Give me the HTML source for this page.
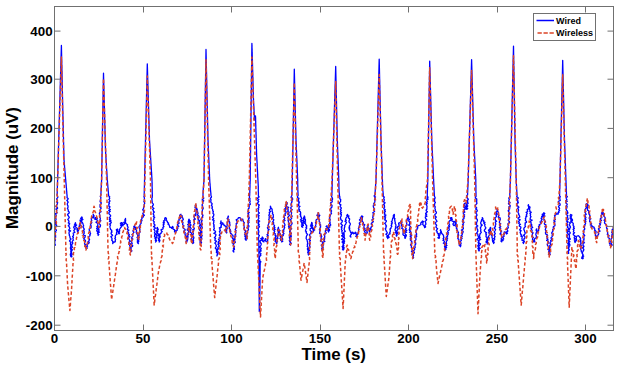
<!DOCTYPE html>
<html><head><meta charset="utf-8"><style>
html,body{margin:0;padding:0;background:#fff;}
body{width:620px;height:370px;position:relative;overflow:hidden;font-family:"Liberation Sans",sans-serif;font-weight:bold;color:#000;}
svg{position:absolute;left:0;top:0;}
.yl{position:absolute;right:567.4px;font-size:13.4px;line-height:15px;height:15px;text-align:right;white-space:nowrap;}
.xl{position:absolute;top:331.0px;width:40px;font-size:13.4px;line-height:15px;text-align:center;}
.xlab{position:absolute;left:301.5px;top:345.3px;font-size:16.9px;line-height:19px;white-space:nowrap;}
.ylab{position:absolute;left:3.2px;top:228.6px;font-size:16.9px;line-height:19px;white-space:nowrap;transform-origin:0 0;transform:rotate(-90deg);}
.lg{position:absolute;font-size:9px;line-height:11px;white-space:nowrap;}
</style></head><body>
<svg width="620" height="370" viewBox="0 0 620 370">
<defs><clipPath id="ax"><rect x="54.5" y="6.5" width="559.0" height="324.0"/></clipPath></defs>
<g fill="none" stroke-linejoin="round" stroke-linecap="round" clip-path="url(#ax)">
<polyline points="54.5,247.0 53.8,246.0 55.3,245.2 55.2,244.3 54.2,243.3 54.8,242.5 54.7,241.5 55.2,240.7 55.5,239.8 54.2,238.8 54.1,237.9 55.8,237.0 55.0,236.1 55.7,235.2 54.3,234.2 55.2,233.4 55.8,232.5 54.9,231.5 56.4,230.7 56.3,229.8 54.7,228.8 54.7,227.9 55.7,227.0 55.8,226.1 56.7,225.3 55.6,224.3 55.3,223.4 55.8,222.5 55.0,221.6 55.5,220.7 55.9,219.9 56.1,219.0 55.6,218.1 55.7,217.2 55.7,216.3 56.2,215.4 55.9,214.5 55.4,213.6 57.1,212.8 56.6,211.9 56.5,211.0 56.8,210.1 55.9,209.1 57.6,208.3 57.4,207.4 55.9,206.4 56.4,205.5 57.2,204.6 57.2,203.7 57.7,202.8 56.7,201.9 57.5,201.0 57.3,200.1 56.6,199.1 57.2,198.2 57.8,197.3 57.7,196.4 57.1,195.5 57.1,194.6 57.2,193.7 57.2,192.7 57.2,191.8 57.3,190.9 57.3,190.0 61.4,45.4 62.8,110.0 62.8,110.9 62.8,111.8 62.9,112.7 62.9,113.6 62.9,114.5 62.9,115.4 62.9,116.2 63.0,117.1 63.0,118.0 63.0,118.9 63.0,119.8 63.1,120.7 63.1,121.6 63.1,122.5 63.1,123.4 63.1,124.3 63.2,125.2 63.2,126.1 63.2,127.0 63.2,127.9 63.2,128.8 63.3,129.6 63.3,130.5 63.3,131.4 63.3,132.3 63.4,133.2 63.4,134.1 63.4,135.0 63.4,135.9 63.4,136.8 63.5,137.7 63.5,138.6 63.5,139.5 63.5,140.4 63.5,141.2 63.6,142.1 63.6,143.0 63.6,143.9 63.6,144.8 63.7,145.7 63.7,146.6 63.7,147.5 63.7,148.4 63.7,149.3 63.8,150.2 63.8,151.1 63.8,152.0 63.8,152.9 63.9,153.8 63.9,154.6 63.9,155.5 63.9,156.4 63.9,157.3 64.0,158.2 64.0,159.1 64.0,160.0 64.1,160.9 64.2,161.8 64.2,162.7 64.3,163.6 64.4,164.5 64.5,165.4 64.5,166.3 64.6,167.2 64.7,168.1 64.8,169.0 64.8,169.9 64.9,170.8 65.0,171.7 65.1,172.6 65.2,173.5 65.2,174.4 65.3,175.3 65.4,176.2 65.5,177.1 65.5,177.9 65.6,178.8 65.7,179.7 65.8,180.6 65.8,181.5 65.9,182.4 66.0,183.3 66.1,184.2 66.2,185.1 66.2,186.0 66.3,186.9 66.4,187.8 66.5,188.7 66.5,189.6 66.6,190.5 66.7,191.4 66.8,192.3 66.8,193.2 66.9,194.1 67.0,195.0 67.1,195.9 67.1,196.8 67.0,197.7 68.2,198.5 67.8,199.5 66.8,200.4 67.6,201.3 68.2,202.2 67.5,203.1 67.3,204.0 67.4,204.9 68.0,205.8 68.0,206.7 67.9,207.6 67.4,208.5 68.0,209.4 68.3,210.3 68.2,211.2 69.2,212.0 69.2,212.9 68.0,213.9 67.5,214.9 68.3,215.7 68.8,216.6 69.3,217.5 68.7,218.4 67.8,219.4 68.3,220.2 68.9,221.1 69.0,222.0 68.3,222.9 69.7,223.8 69.2,224.7 68.3,225.7 69.1,226.5 69.4,227.4 69.9,228.3 69.4,229.2 68.6,230.2 70.6,230.9 69.1,231.9 69.1,232.8 69.0,233.8 69.4,234.6 69.3,235.5 69.9,236.4 69.9,237.3 70.2,238.2 71.0,239.0 70.2,240.0 69.5,240.9 70.2,241.8 71.0,242.6 70.4,243.6 70.5,244.5 70.8,245.4 70.9,246.2 70.5,247.2 70.4,248.1 70.5,249.0 70.9,249.8 71.8,250.7 71.4,251.6 71.6,252.5 70.8,253.4 70.3,254.4 70.5,255.2 70.6,256.1 71.2,257.0 71.9,256.2 70.9,255.2 72.2,254.4 71.9,253.5 70.8,252.4 70.8,251.5 70.9,250.6 72.5,249.9 71.5,248.9 71.4,248.0 72.5,247.2 72.0,246.2 71.6,245.3 71.8,244.4 72.7,243.6 72.7,242.7 72.2,241.7 72.5,240.9 73.5,240.1 73.1,239.2 72.9,238.3 73.4,237.4 72.6,236.5 73.4,235.7 73.6,234.8 73.3,233.9 73.2,233.0 74.9,232.3 74.2,231.3 73.8,230.4 74.7,229.6 75.2,228.8 73.7,227.7 73.9,226.8 74.2,226.0 75.5,225.3 74.5,224.3 75.7,223.5 75.4,222.6 75.3,223.6 75.7,224.4 76.6,225.1 75.3,226.4 75.9,227.2 76.7,227.9 77.5,228.6 76.9,229.7 77.6,230.5 77.4,231.5 77.8,232.3 77.7,231.4 78.5,230.7 77.6,229.5 78.3,228.8 79.8,228.3 79.9,227.4 79.0,226.2 80.3,225.6 79.5,224.5 80.9,224.0 80.8,223.0 80.4,222.0 80.3,221.1 80.0,220.1 81.9,219.7 80.6,218.4 82.3,217.9 81.9,216.9 81.1,217.9 82.0,218.7 82.9,219.5 81.6,220.6 81.5,221.5 82.2,222.4 82.7,223.2 83.1,224.1 83.3,225.0 83.7,225.9 82.8,226.9 83.4,227.7 84.0,228.6 84.3,229.4 83.3,230.5 84.2,231.3 83.9,232.2 84.4,233.1 83.4,234.1 83.5,235.1 85.3,235.7 85.1,236.7 84.9,237.6 83.7,238.7 84.3,239.5 85.3,240.3 85.6,241.2 84.8,242.2 84.6,243.2 84.6,244.1 85.8,244.8 84.9,245.9 85.4,246.7 85.9,247.6 86.0,248.5 87.3,248.1 86.3,246.6 87.6,246.2 86.9,244.9 87.4,244.1 88.4,243.6 89.3,242.8 88.0,241.8 89.2,241.0 89.0,240.1 89.6,239.3 88.8,238.3 88.8,237.4 88.9,236.5 90.1,235.8 89.7,234.8 90.5,234.0 90.5,233.1 89.1,232.0 90.0,231.3 89.3,230.3 89.2,229.4 89.4,228.5 91.1,227.8 91.0,226.9 91.2,226.0 90.4,225.0 90.8,224.2 91.2,223.4 91.8,222.6 91.2,221.5 91.8,220.7 91.4,219.6 91.3,218.7 91.9,217.9 93.3,217.3 92.9,216.2 93.8,215.5 93.2,214.4 93.5,215.2 94.2,215.9 93.5,217.0 93.6,217.9 95.5,218.2 94.8,219.3 95.6,219.0 95.4,217.6 96.5,217.7 97.3,218.5 95.9,219.5 97.7,220.3 97.3,221.2 95.9,222.2 97.1,223.0 97.8,223.9 97.8,224.8 97.7,225.7 96.8,226.6 98.2,227.4 96.6,228.5 97.8,229.2 96.7,230.2 96.9,231.1 98.2,231.9 98.4,232.8 98.0,233.7 98.8,234.5 98.1,235.5 98.5,234.7 97.4,233.6 97.5,232.8 99.5,232.2 98.3,231.1 99.0,230.3 98.9,229.4 98.7,228.5 98.3,227.6 100.1,226.9 100.4,226.1 100.5,225.2 99.7,224.2 99.0,223.3 99.2,222.4 100.0,221.5 100.8,220.7 100.0,219.7 100.3,218.8 100.3,217.9 99.5,217.0 100.1,216.1 99.6,215.2 99.6,214.3 99.3,213.4 99.7,212.5 101.1,211.7 100.1,210.8 100.5,209.9 100.6,209.0 101.2,208.1 100.1,207.2 100.0,206.3 100.1,205.4 100.1,204.5 101.2,203.6 101.3,202.7 100.1,201.8 100.2,200.9 100.6,200.0 100.7,199.1 100.8,198.2 100.9,197.3 100.3,196.3 100.8,195.5 100.9,194.5 100.9,193.6 101.0,192.7 101.0,191.8 101.1,190.9 101.1,190.0 101.1,189.1 101.2,188.2 101.2,187.3 101.3,186.4 101.3,185.5 101.4,184.5 101.4,183.6 101.5,182.7 101.5,181.8 101.6,180.9 101.6,180.0 103.5,73.2 105.5,150.0 105.6,150.9 105.6,151.8 105.7,152.7 105.7,153.6 105.8,154.5 105.8,155.5 105.9,156.4 105.9,157.3 106.0,158.2 106.0,159.1 106.1,160.0 106.2,160.9 106.2,161.8 106.3,162.7 106.3,163.6 106.4,164.5 106.4,165.5 106.5,166.4 106.5,167.3 106.6,168.2 106.6,169.1 106.7,170.0 106.8,170.9 106.8,171.8 106.9,172.7 106.9,173.6 107.0,174.5 107.0,175.5 107.1,176.4 107.1,177.3 107.2,178.2 107.2,179.1 107.3,180.0 107.4,180.9 107.5,181.8 107.5,182.6 107.6,183.5 107.7,184.4 107.8,185.3 107.8,186.2 107.9,187.1 108.0,187.9 108.1,188.8 108.1,189.7 108.2,190.6 108.3,191.5 108.4,192.4 108.4,193.2 108.5,194.1 108.6,195.0 108.7,195.9 109.7,196.8 109.3,197.7 109.7,198.6 108.8,199.6 109.8,200.4 109.9,201.3 108.8,202.3 109.5,203.2 108.6,204.1 109.2,205.0 108.6,206.0 110.0,206.8 109.4,207.7 108.9,208.7 110.4,209.5 108.7,210.5 110.3,211.3 109.1,212.3 108.8,213.2 109.2,214.1 110.2,215.0 110.7,215.9 110.0,216.8 109.2,217.8 110.5,218.6 109.4,219.6 110.9,220.4 109.5,221.4 111.3,222.2 110.8,223.2 109.6,224.1 110.5,225.0 110.0,226.0 109.9,226.9 110.1,227.7 110.4,228.6 110.6,229.5 111.8,230.2 111.4,231.2 112.0,232.0 111.0,233.0 111.2,233.9 112.1,234.7 112.6,235.5 110.9,236.6 111.4,237.5 112.0,238.3 112.1,239.2 111.6,240.1 112.5,240.9 112.7,241.8 112.9,242.7 112.7,243.6 113.2,242.7 113.7,241.8 115.0,242.0 115.4,241.2 115.2,240.2 115.6,239.4 114.8,238.4 115.5,237.6 115.2,236.7 115.4,235.8 115.8,235.0 117.1,234.3 116.4,233.3 116.6,232.4 117.1,231.6 116.6,230.6 116.3,229.7 117.4,229.0 117.6,229.8 117.9,230.6 117.9,231.5 118.6,232.2 118.4,233.2 119.0,233.9 119.6,233.1 118.9,232.0 119.6,231.3 119.7,230.4 119.4,229.4 120.0,228.6 120.5,227.8 121.3,227.1 121.5,226.3 120.5,225.1 121.4,224.4 120.4,223.3 121.5,222.6 122.7,223.0 122.3,224.2 122.0,225.3 123.1,225.8 122.7,224.8 124.1,224.3 124.6,223.6 123.8,222.4 124.8,221.9 125.4,221.2 124.7,220.0 125.6,219.4 125.5,218.5 125.3,219.5 125.7,220.4 125.4,221.4 125.6,222.3 125.7,223.3 126.6,224.0 127.6,224.7 127.2,225.8 127.8,226.6 128.1,227.5 127.5,228.6 127.3,229.5 128.8,230.2 127.7,231.3 127.8,232.3 128.7,233.1 128.5,234.0 129.4,234.8 128.4,235.9 129.9,236.6 128.2,237.8 128.7,238.7 129.2,239.5 129.6,240.4 130.2,241.2 129.0,242.3 129.1,243.1 130.8,243.8 129.7,244.8 129.7,245.7 130.1,246.5 130.2,247.4 130.8,248.2 130.0,249.2 130.0,250.1 131.3,250.8 131.2,251.7 131.9,250.9 131.2,249.9 130.8,248.9 131.2,248.1 130.9,247.1 132.5,246.4 132.7,245.5 131.2,244.4 132.2,243.6 131.9,242.7 131.4,241.7 131.9,240.9 131.9,240.0 132.9,239.1 131.5,238.1 132.0,237.2 132.6,236.4 132.8,235.5 132.0,234.5 133.3,233.8 133.4,232.9 134.0,232.1 132.9,231.0 133.2,230.1 133.9,229.3 133.5,228.4 134.3,227.6 133.8,226.6 134.4,225.8 134.7,226.6 135.1,227.3 136.1,227.4 135.6,228.4 135.4,229.3 136.4,230.1 136.7,231.0 136.1,232.0 136.4,232.9 136.9,233.7 137.4,234.6 137.7,235.4 138.2,236.3 137.0,237.4 138.5,238.1 137.3,239.2 137.9,240.0 137.2,241.0 137.7,241.9 137.4,242.8 138.5,243.6 137.8,242.7 138.6,241.8 138.9,241.0 138.4,240.0 138.9,239.2 138.7,238.3 139.1,237.4 138.1,236.5 139.0,235.7 139.1,234.8 138.9,233.9 139.2,233.0 140.0,232.2 139.9,231.3 139.6,230.4 140.0,229.5 139.5,228.6 139.2,227.7 138.9,226.8 139.5,225.9 140.2,225.1 140.1,224.2 141.1,223.5 141.2,222.5 140.8,221.4 142.0,220.7 141.2,219.5 142.1,218.8 141.7,217.7 142.1,217.0 143.2,217.0 143.4,216.1 144.4,215.2 143.1,214.3 142.8,213.3 143.8,212.4 143.6,211.5 143.3,210.6 142.7,209.6 143.5,208.8 143.6,207.8 143.6,206.9 144.5,206.0 144.0,205.1 144.3,204.2 144.7,203.3 144.4,202.4 143.9,201.4 144.5,200.5 144.3,199.6 144.4,198.7 144.4,197.8 143.9,196.8 144.2,195.9 144.2,195.0 147.3,63.8 149.5,140.0 149.6,140.9 149.6,141.8 149.7,142.7 149.7,143.6 149.8,144.4 149.8,145.3 149.9,146.2 149.9,147.1 150.0,148.0 150.1,148.9 150.1,149.8 150.2,150.7 150.2,151.6 150.3,152.4 150.3,153.3 150.4,154.2 150.4,155.1 150.5,156.0 150.6,156.9 150.6,157.8 150.7,158.7 150.7,159.6 150.8,160.4 150.8,161.3 150.9,162.2 150.9,163.1 151.0,164.0 151.1,164.9 151.1,165.8 151.2,166.7 151.2,167.6 151.3,168.4 151.3,169.3 151.4,170.2 151.4,171.1 151.5,172.0 151.6,172.9 151.6,173.8 151.7,174.7 151.7,175.6 151.8,176.4 151.8,177.3 151.9,178.2 151.9,179.1 152.0,180.0 152.0,180.9 152.0,181.8 152.1,182.6 152.1,183.5 152.1,184.4 152.1,185.3 152.1,186.2 152.1,187.1 152.2,187.9 152.2,188.8 152.2,189.7 152.2,190.6 152.2,191.5 152.2,192.4 152.3,193.2 152.3,194.1 152.3,195.0 152.4,195.9 152.2,196.8 152.2,197.7 151.7,198.7 152.0,199.5 152.0,200.4 152.2,201.3 152.1,202.2 152.6,203.1 153.2,204.0 153.4,204.9 152.6,205.8 152.3,206.7 153.0,207.6 153.9,208.5 152.6,209.4 153.3,210.3 153.4,211.2 154.3,212.0 153.5,213.0 153.1,213.9 153.8,214.8 154.0,215.7 153.4,216.6 154.7,217.4 153.8,218.4 153.9,219.3 153.1,220.3 153.6,221.1 154.3,222.0 153.8,223.0 154.0,223.9 154.9,224.7 154.9,225.6 153.6,226.6 154.9,227.4 155.4,228.3 153.9,229.3 154.6,230.2 155.0,231.1 154.8,232.0 154.4,233.0 155.6,233.8 154.7,234.8 154.6,235.7 154.5,236.6 155.6,237.4 155.0,238.4 155.8,239.2 155.3,240.2 156.1,241.0 155.5,242.0 156.2,241.2 156.5,240.3 155.5,239.2 155.4,238.3 157.0,237.6 156.7,236.6 157.1,235.7 155.6,234.6 157.4,233.9 157.0,232.9 156.5,231.9 156.9,231.0 157.6,230.2 157.8,229.3 156.8,228.2 157.5,227.4 157.3,228.3 158.4,229.2 156.9,230.2 158.0,231.0 157.2,232.1 157.6,232.9 158.0,233.8 158.8,234.6 158.3,235.6 159.2,236.4 159.3,237.4 158.3,238.4 159.1,239.2 158.4,240.2 159.5,241.0 159.1,242.0 159.7,241.2 159.9,240.3 159.3,239.3 159.1,238.3 159.9,237.5 160.2,236.7 159.7,235.7 160.0,234.8 159.9,233.9 161.2,233.2 161.2,232.3 162.2,231.7 161.2,230.5 161.1,229.6 162.7,229.2 163.1,228.4 162.8,227.4 163.9,226.7 163.5,225.7 163.1,224.7 164.3,224.0 163.1,222.8 164.5,222.2 163.5,221.0 164.4,220.3 164.8,219.5 164.7,218.5 165.2,217.7 166.2,218.2 166.5,219.0 165.9,220.4 166.9,220.9 167.4,221.7 167.6,222.6 168.6,223.1 168.1,224.4 169.2,224.8 169.3,225.8 169.7,226.5 169.8,227.4 170.9,227.4 171.7,228.4 172.4,226.4 173.2,227.3 172.9,228.3 173.1,229.1 174.4,229.6 174.6,230.4 174.5,231.4 174.9,232.1 176.2,231.8 175.9,230.4 177.3,230.2 177.3,228.9 178.0,228.1 177.1,226.9 178.8,226.3 177.3,225.0 177.8,224.1 179.0,223.4 178.9,222.4 178.3,221.3 179.1,220.5 178.9,219.5 179.8,218.8 180.7,218.1 181.1,217.2 179.6,215.9 179.9,215.0 181.0,214.3 180.6,215.4 182.3,215.9 182.1,216.9 182.6,217.7 182.9,218.6 183.3,219.5 182.3,220.7 182.3,221.6 183.0,222.4 182.8,223.3 182.6,224.3 183.2,225.1 183.9,225.8 183.5,226.8 183.0,227.8 183.8,228.5 184.8,229.2 185.3,230.0 183.7,231.2 184.6,232.0 185.2,232.7 184.9,233.7 185.1,234.6 185.4,235.4 185.6,236.3 186.7,237.0 186.4,238.1 186.5,239.1 187.1,239.9 186.0,241.2 187.0,241.9 186.9,241.0 187.5,240.1 187.7,239.2 187.8,238.3 187.9,237.4 188.0,236.5 187.1,235.5 188.6,234.7 187.1,233.7 188.7,232.9 188.6,232.0 188.7,231.1 187.2,230.0 187.4,229.1 188.9,228.3 188.3,227.4 188.2,226.4 189.5,225.6 187.7,224.6 188.7,223.7 188.7,222.8 188.1,221.9 188.7,221.0 189.4,220.1 189.1,219.2 188.5,220.2 190.3,220.8 189.4,221.8 190.4,222.6 189.1,223.6 190.7,224.3 190.9,225.2 190.3,226.1 189.7,227.1 190.7,227.8 191.2,228.7 190.0,229.7 190.7,230.5 190.2,231.5 190.3,232.3 191.5,233.0 191.4,233.9 191.9,234.8 191.4,235.7 192.0,236.5 192.1,237.4 191.3,238.4 191.1,239.3 192.0,240.1 193.1,240.8 192.1,241.8 192.7,242.6 192.7,243.5 193.7,242.7 193.3,241.7 193.6,240.8 193.4,239.9 193.1,239.0 193.9,238.1 193.8,237.2 192.8,236.2 192.6,235.3 193.1,234.4 193.4,233.5 192.7,232.5 193.2,231.7 193.7,230.8 192.7,229.8 194.4,229.0 194.1,228.1 193.5,227.1 193.5,226.2 193.7,225.3 193.7,224.4 194.6,223.6 194.2,222.6 194.3,221.7 194.3,220.8 193.7,219.8 195.3,219.1 194.2,218.1 194.3,217.2 193.9,216.2 195.8,215.5 194.9,214.5 195.8,213.7 196.0,212.8 196.1,211.9 195.9,211.0 196.2,210.1 196.3,209.2 196.1,208.3 194.9,207.2 195.8,206.4 196.0,205.5 195.9,204.6 195.2,205.8 195.8,206.6 196.2,207.5 196.4,208.4 197.4,209.2 196.5,210.4 197.6,211.1 197.4,212.0 198.0,212.8 198.0,213.7 197.1,214.7 198.2,215.5 199.0,216.2 199.2,217.1 198.2,218.1 198.6,218.9 198.0,219.9 199.6,220.6 199.3,221.5 199.2,222.4 198.8,223.3 200.2,224.1 200.2,225.0 199.4,225.9 200.0,226.8 200.4,227.6 200.1,228.5 199.5,229.5 199.7,230.3 200.7,231.1 200.8,232.0 199.3,233.0 199.8,233.9 200.8,234.7 199.5,235.6 201.2,236.4 200.6,237.3 199.7,238.3 200.0,239.1 201.0,240.0 199.8,240.9 200.5,241.8 200.0,242.7 200.8,243.5 201.6,242.6 200.7,241.7 201.3,240.8 201.1,239.9 201.9,239.0 201.6,238.1 201.5,237.1 201.8,236.2 202.2,235.3 200.7,234.4 200.7,233.4 201.8,232.6 201.9,231.7 201.4,230.7 201.4,229.8 201.3,228.9 202.3,228.0 202.1,227.1 201.7,226.2 200.7,225.2 202.4,224.4 201.6,223.4 201.1,222.5 201.4,221.6 202.2,220.7 200.9,219.7 201.1,218.8 201.5,217.9 202.8,217.1 202.5,216.1 203.0,215.3 202.1,214.3 202.2,213.4 202.3,212.5 202.3,211.6 202.3,210.7 202.4,209.8 203.0,208.9 203.3,208.0 202.2,207.1 202.7,206.2 202.1,205.3 202.2,204.4 202.6,203.5 202.8,202.6 202.8,201.7 203.7,200.8 202.1,199.9 203.1,199.0 203.8,198.1 203.3,197.2 203.0,196.3 203.0,195.4 203.0,194.5 203.0,193.6 203.1,192.7 203.1,191.8 203.2,190.9 203.2,190.0 203.3,189.1 203.3,188.2 203.4,187.3 203.5,186.4 203.6,185.5 203.6,184.5 203.7,183.6 203.8,182.7 203.9,181.8 203.9,180.9 204.0,180.0 206.0,49.5 208.0,140.0 208.0,140.9 208.1,141.8 208.1,142.7 208.2,143.6 208.2,144.5 208.2,145.5 208.3,146.4 208.3,147.3 208.3,148.2 208.4,149.1 208.4,150.0 208.5,150.9 208.5,151.8 208.5,152.7 208.6,153.6 208.6,154.5 208.7,155.5 208.7,156.4 208.7,157.3 208.8,158.2 208.8,159.1 208.8,160.0 208.9,160.9 208.9,161.8 209.0,162.7 209.0,163.6 209.0,164.5 209.1,165.5 209.1,166.4 209.2,167.3 209.2,168.2 209.2,169.1 209.3,170.0 209.3,170.9 209.4,171.8 209.4,172.7 209.4,173.6 209.5,174.5 209.5,175.5 209.5,176.4 209.6,177.3 209.6,178.2 209.7,179.1 209.7,180.0 209.8,180.9 209.8,181.8 209.9,182.7 210.0,183.6 210.1,184.5 210.1,185.5 210.2,186.4 210.3,187.3 210.4,188.2 210.4,189.1 210.5,190.0 210.6,190.9 210.7,191.8 210.8,192.7 210.9,193.6 210.9,194.5 211.0,195.4 211.4,196.3 211.4,197.2 210.4,198.2 210.6,199.1 211.1,199.9 210.8,200.9 210.8,201.8 211.1,202.7 212.1,203.5 212.0,204.4 211.4,205.4 212.1,206.2 212.4,207.1 211.8,208.1 212.4,208.9 212.8,209.8 212.7,210.7 213.4,211.5 213.1,212.5 213.0,213.4 213.9,214.2 213.7,215.1 213.6,216.0 212.5,217.1 213.1,217.9 213.8,218.8 212.5,219.8 214.1,220.5 213.7,221.5 213.8,222.4 213.4,223.3 213.6,224.2 214.2,225.1 213.6,226.1 214.3,226.9 213.9,227.8 214.4,228.7 213.6,229.7 214.2,230.5 215.5,231.3 215.5,232.2 213.9,233.3 215.5,234.0 216.0,234.9 215.6,235.9 215.3,236.8 214.4,237.8 215.6,238.6 215.0,239.5 214.9,240.5 216.5,241.2 215.5,242.2 214.9,243.2 215.8,244.0 216.0,244.9 216.4,245.8 216.2,246.7 215.4,247.7 215.4,248.6 217.2,249.4 216.4,250.4 216.7,251.3 216.3,252.3 217.5,253.2 217.2,254.1 217.3,255.0 216.9,256.0 217.0,255.1 217.8,254.3 218.0,253.4 218.0,252.5 218.0,251.5 216.9,250.4 217.7,249.6 218.4,248.8 217.8,247.8 218.3,246.9 219.3,246.1 218.6,245.1 217.9,244.1 219.5,243.4 218.1,242.3 218.7,241.5 219.9,240.7 218.5,239.6 219.3,238.8 219.1,237.9 220.2,237.1 220.5,236.2 219.2,235.2 219.7,234.3 220.5,233.5 219.9,232.5 219.4,231.5 220.5,230.8 219.8,229.8 220.2,228.9 219.3,227.9 221.4,227.2 220.8,226.2 221.4,225.4 221.6,224.5 220.3,223.5 220.9,222.6 220.8,221.7 221.0,220.8 221.0,221.8 221.2,222.7 222.8,222.9 222.7,224.0 223.8,224.2 224.1,225.5 225.1,225.7 225.5,226.6 226.2,227.4 226.3,228.3 225.7,229.4 225.8,230.3 225.3,231.4 226.3,232.1 226.6,233.0 226.9,232.1 226.1,231.1 226.7,230.3 226.5,229.4 227.4,228.6 226.6,227.6 226.6,226.7 227.0,225.8 227.3,224.9 227.1,224.0 227.7,223.2 227.0,222.2 228.5,221.4 228.2,220.5 227.9,219.6 227.1,218.6 227.7,217.8 228.5,216.9 228.2,216.0 228.0,216.9 227.8,217.9 227.7,218.8 229.0,219.6 228.7,220.5 229.2,221.4 229.7,222.3 229.8,223.2 229.6,224.1 230.1,225.0 229.3,226.0 229.1,226.9 229.5,227.8 229.3,228.7 230.3,229.5 229.9,230.5 230.8,231.1 230.6,232.2 230.4,233.3 231.5,233.8 231.9,234.7 232.9,235.4 233.1,236.3 232.8,237.4 232.4,238.4 233.7,239.1 233.1,240.2 233.7,241.1 232.9,242.0 232.3,243.0 233.7,243.8 233.2,244.8 233.4,245.6 234.5,246.5 233.9,247.4 234.4,248.3 234.2,249.2 233.2,250.2 233.5,251.1 233.9,252.0 233.0,251.0 233.2,250.2 234.5,249.4 233.4,248.4 233.8,247.5 233.8,246.6 233.4,245.7 233.5,244.8 233.7,244.0 234.3,243.1 235.4,242.3 234.9,241.4 234.2,240.4 235.1,239.6 234.4,238.6 234.9,237.8 234.6,236.9 235.9,236.1 234.8,235.1 235.7,234.3 235.5,233.4 235.9,232.5 235.5,231.6 236.1,230.7 235.2,229.8 235.5,228.9 236.0,228.1 236.0,227.2 236.0,226.3 236.2,225.4 236.3,224.5 236.2,223.6 237.4,222.9 237.0,221.9 237.0,221.0 236.2,219.9 237.2,219.2 238.0,218.7 238.4,217.6 239.6,217.6 240.5,218.1 240.5,219.1 240.7,220.0 241.2,220.8 241.4,219.9 241.9,219.4 242.8,219.2 242.9,220.1 243.2,221.0 243.5,221.9 244.3,222.6 243.9,223.7 243.6,224.7 244.0,225.5 244.1,226.4 244.4,227.3 243.8,228.3 244.2,229.2 244.4,230.1 245.8,230.9 245.4,231.9 244.8,232.9 245.9,233.7 244.6,234.8 246.2,235.5 244.9,236.6 246.3,237.4 245.2,238.4 245.3,239.4 246.1,240.2 246.0,239.2 247.2,238.6 246.0,237.4 247.5,236.7 246.8,235.7 247.0,234.8 246.6,233.8 247.7,233.0 247.7,232.1 247.3,231.2 248.1,230.3 248.5,229.5 248.1,228.5 247.0,227.6 248.9,226.8 248.9,225.9 248.4,225.0 248.0,224.0 248.4,223.2 249.1,222.3 248.3,221.4 249.0,220.5 248.7,219.6 248.4,218.7 249.4,217.9 248.5,216.9 248.9,216.0 247.9,215.1 248.7,214.2 247.9,213.3 249.3,212.5 248.0,211.5 248.1,210.6 248.3,209.7 248.4,208.8 249.2,208.0 249.0,207.1 249.3,206.2 248.9,205.3 250.3,204.4 250.2,203.5 249.7,202.6 250.1,201.7 250.1,200.8 249.0,199.9 250.2,199.0 249.1,198.1 249.7,197.2 249.4,196.3 249.7,195.4 249.7,194.5 249.7,193.6 249.8,192.6 249.8,191.7 249.8,190.8 249.9,189.9 249.9,189.0 249.9,188.1 250.0,187.2 250.0,186.3 250.0,185.4 250.0,184.5 250.1,183.6 250.1,182.7 250.1,181.8 250.2,180.9 250.2,180.0 251.9,43.5 251.9,44.4 252.0,45.3 252.0,46.2 252.0,47.1 252.0,48.0 252.1,48.9 252.1,49.8 252.1,50.7 252.1,51.6 252.2,52.5 252.2,53.4 252.2,54.3 252.2,55.2 252.3,56.1 252.3,57.0 252.3,57.8 252.3,58.7 252.4,59.6 252.4,60.5 252.4,61.4 252.4,62.3 252.5,63.2 252.5,64.1 252.5,65.0 252.5,65.9 252.6,66.8 252.6,67.7 252.6,68.6 252.6,69.5 252.7,70.4 252.7,71.3 252.7,72.2 252.7,73.1 252.8,74.0 252.8,74.9 252.8,75.8 252.8,76.7 252.9,77.6 252.9,78.5 252.9,79.4 252.9,80.3 253.0,81.2 253.0,82.1 253.0,83.0 253.0,83.9 253.1,84.8 253.1,85.7 253.1,86.5 253.1,87.4 253.2,88.3 253.2,89.2 253.2,90.1 253.2,91.0 253.3,91.9 253.3,92.8 253.3,93.7 253.3,94.6 253.4,95.5 253.4,96.4 253.4,97.3 253.4,98.2 253.5,99.1 253.5,100.0 253.5,100.9 253.6,101.8 253.6,102.7 253.7,103.6 253.7,104.5 253.8,105.5 253.8,106.4 253.9,107.3 253.9,108.2 254.0,109.1 254.0,110.0 254.0,110.9 254.1,111.8 254.1,112.7 254.2,113.6 254.2,114.5 254.3,115.5 254.3,116.4 254.4,117.3 254.4,118.2 254.5,119.1 254.5,120.0 254.7,119.2 254.9,118.4 255.1,117.6 255.3,116.8 255.5,116.0 255.5,116.9 255.6,117.8 255.6,118.7 255.6,119.6 255.6,120.5 255.7,121.4 255.7,122.3 255.7,123.2 255.7,124.1 255.8,125.0 255.8,126.0 255.8,126.9 255.8,127.8 255.9,128.7 255.9,129.6 255.9,130.5 255.9,131.4 256.0,132.3 256.0,133.2 256.0,134.1 256.1,135.0 256.1,135.9 256.1,136.8 256.1,137.7 256.2,138.6 256.2,139.5 256.2,140.4 256.2,141.3 256.3,142.2 256.3,143.1 256.3,144.0 256.3,145.0 256.4,145.9 256.4,146.8 256.4,147.7 256.4,148.6 256.5,149.5 256.5,150.4 256.5,151.3 256.5,152.2 256.6,153.1 256.6,154.0 256.6,154.9 256.7,155.8 256.7,156.7 256.8,157.6 256.8,158.5 256.9,159.4 256.9,160.2 257.0,161.1 257.0,162.0 257.1,162.9 257.1,163.8 257.2,164.7 257.2,165.6 257.2,166.5 257.3,167.4 257.3,168.3 257.4,169.2 257.4,170.1 257.5,170.9 257.5,171.8 257.6,172.7 257.6,173.6 257.7,174.5 257.7,175.4 257.7,176.3 257.8,177.2 257.8,178.1 257.9,179.0 257.9,179.9 258.0,180.8 258.0,181.6 258.1,182.5 258.1,183.4 258.2,184.3 258.2,185.2 258.3,186.1 258.3,187.0 258.3,187.9 258.3,188.8 258.3,189.7 258.3,190.6 258.3,191.5 258.4,192.4 258.4,193.3 258.4,194.2 258.4,195.1 258.4,196.0 259.1,196.9 257.8,197.8 257.6,198.7 258.8,199.6 257.7,200.5 258.7,201.4 258.1,202.3 257.5,203.2 257.9,204.1 259.4,205.0 258.6,205.9 258.7,206.8 258.9,207.7 257.9,208.6 258.6,209.5 258.1,210.4 258.3,211.3 258.5,212.2 259.4,213.0 258.2,214.0 257.8,214.9 259.2,215.7 258.3,216.6 258.6,217.5 258.9,218.4 258.2,219.3 257.7,220.2 259.6,221.1 257.8,222.0 258.9,222.9 258.0,223.8 259.3,224.7 258.2,225.6 259.5,226.5 259.0,227.4 257.8,228.3 258.4,229.2 258.1,230.1 258.8,231.0 258.8,231.9 258.7,232.8 258.2,233.7 258.3,234.6 259.4,235.5 258.9,236.4 258.7,237.3 258.6,238.2 257.9,239.1 258.8,240.0 259.3,311.6 259.3,310.7 259.4,309.8 259.4,308.9 259.4,308.0 259.4,307.1 259.4,306.2 259.5,305.3 259.5,304.4 259.5,303.5 259.6,302.6 259.6,301.7 259.6,300.8 259.6,299.9 259.6,299.0 259.7,298.1 259.7,297.2 259.7,296.3 259.8,295.4 259.8,294.5 259.8,293.6 259.8,292.7 259.8,291.8 259.9,290.9 259.9,290.0 259.9,289.1 259.9,288.2 259.9,287.3 259.9,286.4 259.9,285.5 260.0,284.5 260.0,283.6 260.0,282.7 260.0,281.8 260.0,280.9 260.0,280.0 260.0,279.1 260.0,278.2 260.0,277.3 260.0,276.4 260.0,275.5 260.1,274.5 260.1,273.6 260.1,272.7 260.1,271.8 260.1,270.9 260.1,270.0 260.1,269.1 260.1,268.2 260.1,267.3 260.1,266.4 260.1,265.5 260.2,264.5 260.2,263.6 260.2,262.7 260.9,261.8 259.5,260.9 260.0,260.0 259.4,259.1 259.3,258.2 259.4,257.3 259.6,256.4 260.8,255.5 260.6,254.5 260.9,253.6 259.8,252.7 259.6,251.8 261.2,250.9 260.3,250.0 261.0,249.1 261.3,248.3 259.4,247.3 260.2,246.5 260.7,245.6 261.0,244.8 261.3,243.9 260.6,243.0 260.4,242.1 259.6,241.2 261.2,240.4 261.6,239.5 260.7,238.6 261.8,238.6 262.0,237.8 262.3,237.0 262.9,237.7 263.3,238.5 262.6,239.6 262.5,240.5 262.8,241.4 263.9,241.9 263.7,240.8 264.9,240.3 265.1,239.4 265.5,238.6 266.0,239.4 265.8,240.5 265.9,241.5 267.1,241.9 267.6,241.1 267.7,240.2 267.7,239.3 267.7,238.4 267.6,237.5 267.1,236.5 268.2,235.7 267.0,234.7 268.1,233.9 267.6,233.0 268.1,232.2 268.3,231.3 268.1,230.4 269.1,229.6 267.7,228.6 267.4,227.6 269.3,226.9 268.1,225.9 268.1,225.0 268.5,224.2 268.9,223.3 268.8,222.4 269.9,221.6 269.4,220.6 268.7,219.7 269.2,218.8 269.1,217.9 269.3,217.0 269.3,216.1 268.8,215.1 269.4,214.3 269.5,213.4 269.2,212.4 270.5,211.7 269.7,210.7 269.4,209.7 270.3,208.9 270.9,208.1 270.9,207.2 270.4,206.2 270.4,207.1 270.5,208.0 271.5,208.5 272.1,209.2 272.2,210.1 272.0,211.1 272.4,211.9 272.7,212.8 272.4,213.7 273.2,214.5 273.3,215.3 273.2,216.2 273.5,217.1 272.4,218.1 273.0,218.9 273.8,219.7 273.5,220.6 272.7,221.6 273.6,222.4 273.5,223.3 273.7,224.2 274.1,225.1 274.6,225.9 273.8,226.9 275.0,227.7 273.7,228.8 275.2,229.5 273.9,230.5 274.7,231.4 274.2,232.3 274.5,233.2 275.5,234.0 274.8,235.0 275.8,235.8 275.5,236.7 275.3,237.7 275.2,238.6 275.9,239.3 275.5,240.3 275.1,241.4 276.6,241.8 276.0,242.9 276.9,243.5 276.4,242.5 277.5,241.7 276.9,240.8 277.3,239.9 276.5,238.9 278.1,238.2 276.9,237.1 277.5,236.3 277.3,235.4 278.4,234.6 278.1,233.6 278.2,232.7 278.6,231.9 277.7,230.9 277.4,229.9 279.0,229.2 278.0,228.2 278.5,227.3 278.1,228.3 278.0,229.3 278.8,230.1 280.0,230.7 278.7,231.9 279.3,232.8 280.2,233.5 280.5,234.4 280.1,235.4 280.3,236.3 281.3,237.1 280.0,238.4 280.6,239.2 280.6,240.2 281.7,240.9 281.7,241.9 282.8,241.2 281.4,239.9 282.8,239.2 282.1,238.1 281.9,237.0 282.3,236.1 283.3,235.4 282.8,234.5 284.0,233.7 283.3,232.7 283.5,231.9 283.9,231.0 283.2,230.1 284.0,229.3 284.2,228.4 284.7,227.6 284.0,226.6 284.7,225.8 285.0,224.9 284.7,224.0 284.1,223.1 283.8,222.2 283.6,221.3 285.1,220.5 283.8,219.5 284.7,218.7 284.5,217.8 283.8,216.9 284.2,216.0 285.5,215.2 284.9,214.3 285.1,213.4 286.0,212.7 286.1,211.8 284.6,210.7 285.8,210.0 284.7,209.0 285.5,208.2 285.7,207.4 286.8,206.6 286.2,205.7 285.5,204.7 286.3,203.9 286.4,203.1 286.5,202.2 287.3,203.0 287.2,203.9 286.4,205.1 286.4,206.0 287.0,206.8 288.6,207.4 287.1,208.7 288.1,209.4 288.2,210.3 287.6,211.2 288.9,212.0 289.1,212.9 287.6,213.9 288.9,214.6 289.5,215.5 288.6,216.4 287.7,217.4 288.1,218.2 289.0,219.1 287.9,220.0 288.4,220.9 288.4,221.8 288.8,222.6 289.4,223.5 288.4,224.4 289.4,225.2 288.5,226.2 289.3,227.0 288.7,227.9 289.6,228.7 289.8,229.6 289.7,230.5 289.6,231.4 290.2,232.3 290.6,233.2 289.7,234.2 289.2,235.1 290.4,236.0 289.3,236.9 289.5,237.8 289.6,238.7 290.4,239.6 289.3,240.6 289.7,241.5 290.2,242.4 291.2,243.2 290.3,244.2 290.5,245.1 289.6,244.2 291.4,243.3 290.2,242.4 290.3,241.5 290.7,240.6 290.9,239.7 290.8,238.8 290.7,237.9 291.0,237.0 291.4,236.1 290.7,235.1 290.8,234.2 291.4,233.3 289.8,232.4 290.2,231.5 290.5,230.6 290.3,229.7 291.7,228.8 290.2,227.9 290.2,227.0 290.6,226.1 291.0,225.2 291.7,224.3 292.1,223.4 291.8,222.5 291.3,221.6 290.2,220.6 290.3,219.7 291.4,218.8 291.8,217.9 290.8,217.0 292.2,216.1 291.4,215.2 291.3,214.3 291.5,213.4 291.6,212.5 290.5,211.6 290.7,210.7 292.3,209.8 291.0,208.9 290.7,208.0 291.1,207.1 292.0,206.2 291.1,205.3 291.0,204.4 291.2,203.5 291.6,202.6 292.1,201.7 291.3,200.7 292.5,199.9 292.7,199.0 292.4,198.1 291.0,197.1 291.5,196.2 291.9,195.3 291.9,194.4 291.9,193.5 291.9,192.6 292.0,191.7 292.0,190.8 292.0,189.9 292.0,189.0 292.1,188.1 292.1,187.2 292.1,186.3 292.1,185.4 292.2,184.5 292.2,183.6 292.2,182.7 292.2,181.8 292.3,180.9 292.3,180.0 294.3,69.2 296.0,140.0 296.0,140.9 296.1,141.8 296.1,142.7 296.2,143.6 296.2,144.5 296.2,145.5 296.3,146.4 296.3,147.3 296.3,148.2 296.4,149.1 296.4,150.0 296.5,150.9 296.5,151.8 296.5,152.7 296.6,153.6 296.6,154.5 296.7,155.5 296.7,156.4 296.7,157.3 296.8,158.2 296.8,159.1 296.9,160.0 296.9,160.9 296.9,161.8 297.0,162.7 297.0,163.6 297.0,164.5 297.1,165.5 297.1,166.4 297.2,167.3 297.2,168.2 297.2,169.1 297.3,170.0 297.3,170.9 297.4,171.8 297.4,172.7 297.4,173.6 297.5,174.5 297.5,175.5 297.5,176.4 297.6,177.3 297.6,178.2 297.7,179.1 297.7,180.0 297.7,180.9 297.7,181.8 297.7,182.7 297.7,183.6 297.7,184.5 297.8,185.5 297.8,186.4 297.8,187.3 297.8,188.2 297.8,189.1 297.8,190.0 297.9,190.9 297.9,191.9 298.0,192.8 298.0,193.7 298.1,194.6 298.1,195.6 297.4,196.6 297.5,197.5 299.0,198.3 298.5,199.3 298.7,200.2 298.0,201.2 299.5,202.0 298.6,203.0 299.1,203.8 298.3,204.8 298.2,205.7 300.0,206.3 299.0,207.4 299.0,208.2 298.7,209.2 299.7,209.9 298.7,210.9 300.3,211.6 300.6,212.4 300.7,213.3 299.9,214.3 300.9,215.0 300.3,216.0 301.0,216.8 301.3,217.7 301.8,218.5 300.3,219.9 301.8,220.5 300.8,221.7 301.9,222.4 301.6,223.3 302.7,223.9 301.4,225.0 303.4,225.5 301.6,226.6 302.7,227.3 301.9,226.3 302.5,225.5 303.2,224.7 302.2,223.7 303.8,223.0 302.6,222.0 304.2,221.3 302.8,220.2 303.9,219.5 303.4,218.5 303.6,217.7 304.2,216.9 304.3,216.0 304.7,216.8 304.8,217.7 304.4,218.7 305.4,219.4 305.5,220.3 304.7,221.3 305.6,222.0 304.4,223.1 305.6,223.8 305.6,224.7 306.6,225.4 306.7,226.3 305.9,227.3 306.8,228.1 305.8,229.1 305.9,230.0 305.4,231.0 306.5,231.8 306.1,232.7 306.9,233.6 307.5,234.4 306.9,235.4 306.4,236.3 306.3,237.3 306.1,238.2 306.5,239.1 307.1,239.9 307.2,240.8 307.4,241.7 307.6,242.6 307.6,243.5 307.3,244.4 307.6,245.3 307.1,246.2 308.0,247.0 308.0,247.9 307.4,248.9 307.7,249.7 308.1,250.6 308.1,251.5 307.7,252.4 308.1,253.2 308.9,254.1 308.5,255.0 308.2,254.1 308.9,253.2 307.8,252.2 308.7,251.3 309.7,250.5 308.5,249.5 309.0,248.6 309.6,247.7 310.1,246.9 309.7,245.9 309.7,245.0 309.3,244.0 309.5,243.1 309.9,242.3 309.5,241.3 310.4,240.5 308.9,239.4 310.0,238.6 310.6,237.7 310.7,236.8 309.9,235.9 309.4,234.9 310.1,234.1 310.7,233.2 311.2,232.4 311.4,231.5 310.2,230.4 310.1,229.5 310.2,228.6 312.0,227.9 311.4,226.9 310.5,225.9 311.7,225.1 312.3,224.3 311.7,223.3 311.6,222.4 312.3,223.2 311.0,224.3 311.6,225.1 312.8,225.8 311.8,226.9 312.5,227.7 312.5,228.6 313.0,229.4 313.3,230.3 313.2,231.2 313.2,232.1 313.5,231.3 313.7,230.5 314.7,229.9 313.5,228.6 314.0,227.9 314.8,227.3 315.9,226.6 315.5,225.6 315.8,224.7 316.0,223.8 315.5,222.7 316.1,221.8 316.0,220.8 316.1,219.9 317.0,219.2 318.2,218.5 317.9,217.5 318.4,216.6 316.9,215.2 318.5,214.7 318.0,213.5 318.6,212.7 318.7,213.6 318.4,214.5 319.8,215.3 319.2,216.2 318.9,217.2 318.3,218.1 319.1,218.9 319.6,219.8 319.1,220.7 319.2,221.6 319.9,222.5 319.5,223.4 320.1,224.2 320.7,225.1 320.2,226.0 320.7,226.9 320.0,227.8 320.0,228.7 319.4,229.7 320.2,230.5 319.8,231.4 319.9,232.3 319.5,233.3 321.1,234.0 321.0,234.9 321.4,235.8 321.7,236.6 321.0,237.6 321.1,238.5 322.0,239.3 320.5,240.3 320.5,241.2 322.4,241.9 322.7,242.8 322.6,243.7 321.4,244.7 321.3,245.7 322.9,246.4 323.2,247.2 322.2,248.2 322.7,249.1 322.5,250.0 321.7,248.9 321.9,248.1 322.4,247.3 322.6,246.4 322.9,245.5 323.6,244.8 323.1,243.8 323.3,242.9 323.4,242.0 324.9,241.4 323.8,240.3 324.5,239.5 324.6,238.6 324.7,237.7 324.6,236.8 324.9,236.0 324.3,235.0 324.8,234.2 325.8,233.5 326.2,232.7 325.3,231.6 325.4,230.7 327.0,230.1 325.6,229.0 327.1,228.4 327.4,227.6 326.1,226.4 327.0,225.7 326.6,226.8 328.1,227.4 328.6,228.2 328.3,229.3 328.4,230.2 328.2,231.2 328.6,232.1 328.6,231.2 329.5,230.4 329.4,229.5 328.4,228.4 328.7,227.6 330.0,226.9 328.9,225.8 330.7,225.2 330.5,224.3 329.5,223.2 330.2,222.4 329.8,221.5 329.8,220.6 330.2,219.7 329.9,218.8 329.5,217.9 330.0,217.0 330.0,216.2 330.3,215.3 330.6,214.4 331.5,213.6 331.1,212.7 331.1,211.8 331.6,210.9 330.7,210.0 330.9,209.1 330.6,208.2 331.8,207.4 331.9,206.5 332.1,205.6 331.5,204.7 330.6,203.7 330.6,202.8 332.1,202.0 332.3,201.2 331.6,200.2 332.5,199.4 332.5,198.5 332.2,197.6 331.5,196.7 331.8,195.8 331.9,194.9 331.9,194.0 331.9,193.1 332.0,192.3 332.0,191.4 332.0,190.5 332.0,189.6 332.1,188.8 332.1,187.9 332.1,187.0 332.1,186.1 332.2,185.3 332.2,184.4 332.2,183.5 332.2,182.6 332.3,181.8 332.3,180.9 332.3,180.0 335.7,66.5 337.3,140.0 337.3,140.9 337.4,141.8 337.4,142.7 337.4,143.6 337.5,144.5 337.5,145.5 337.5,146.4 337.6,147.3 337.6,148.2 337.6,149.1 337.7,150.0 337.7,150.9 337.7,151.8 337.8,152.7 337.8,153.6 337.8,154.5 337.9,155.5 337.9,156.4 337.9,157.3 338.0,158.2 338.0,159.1 338.1,160.0 338.1,160.9 338.1,161.8 338.2,162.7 338.2,163.6 338.2,164.5 338.3,165.5 338.3,166.4 338.3,167.3 338.4,168.2 338.4,169.1 338.4,170.0 338.5,170.9 338.5,171.8 338.5,172.7 338.6,173.6 338.6,174.5 338.6,175.5 338.7,176.4 338.7,177.3 338.7,178.2 338.8,179.1 338.8,180.0 338.8,180.9 338.8,181.8 338.9,182.7 338.9,183.6 338.9,184.5 338.9,185.5 338.9,186.4 338.9,187.3 339.0,188.2 339.0,189.1 339.0,190.0 339.1,190.9 339.1,191.8 339.2,192.6 339.3,193.5 339.4,194.4 339.4,195.3 339.6,196.1 339.9,197.0 339.8,197.9 339.8,198.8 340.7,199.6 340.6,200.5 340.6,201.4 339.9,202.3 339.3,203.2 339.7,204.1 340.9,204.9 340.4,205.8 340.1,206.7 341.1,207.5 341.3,208.4 340.3,209.4 341.2,210.2 340.7,211.1 340.5,212.0 341.5,212.8 340.2,213.8 341.4,214.6 341.2,215.5 341.0,216.4 340.4,217.3 340.5,218.2 340.7,219.1 341.1,219.9 342.4,220.7 342.2,221.6 341.6,222.6 340.8,223.5 341.3,224.4 342.5,225.2 342.2,226.1 341.1,227.0 342.1,227.9 341.4,228.8 341.5,229.7 342.3,230.5 341.8,231.4 342.1,232.3 342.1,233.2 342.8,234.0 343.2,234.9 341.6,235.9 343.5,236.7 343.0,237.6 342.4,238.5 341.7,239.4 343.3,240.2 343.2,241.1 342.1,242.1 343.2,242.9 343.0,243.8 343.2,244.7 343.8,245.5 342.1,246.5 342.6,247.4 344.0,248.2 343.9,249.1 343.1,250.0 342.4,249.1 343.0,248.2 344.1,247.4 342.7,246.4 342.9,245.5 343.2,244.7 343.6,243.8 344.5,243.0 343.8,242.0 344.6,241.2 344.0,240.3 343.8,239.4 344.8,238.5 344.3,237.6 344.1,236.7 344.3,235.8 344.0,234.9 344.3,234.0 343.6,233.1 344.0,232.2 345.2,231.4 344.7,230.5 344.1,229.5 344.3,228.6 344.4,227.7 344.9,226.8 344.4,225.8 345.1,224.9 345.7,224.1 346.0,223.2 346.5,222.3 345.0,221.2 346.2,220.4 345.5,219.4 345.9,218.5 346.3,217.6 346.8,216.8 347.6,216.2 347.6,215.3 347.6,214.3 346.8,215.4 348.9,215.9 348.5,216.9 348.4,217.9 349.5,218.6 349.6,219.5 349.2,220.5 349.0,221.5 349.3,222.4 350.1,223.2 350.4,224.1 350.0,225.1 349.2,226.1 349.7,227.0 348.9,228.0 349.8,228.8 349.3,229.8 350.1,230.6 350.3,231.5 350.6,232.4 351.4,233.3 351.5,234.2 350.4,235.2 350.1,236.2 350.9,237.0 350.1,236.0 350.6,235.2 351.1,234.5 351.3,233.7 352.5,233.1 352.0,232.1 352.9,232.3 353.3,233.0 353.6,233.8 354.1,233.2 355.4,233.3 355.3,232.1 356.0,232.8 355.6,233.8 357.0,234.3 356.5,235.3 355.8,236.4 356.9,237.0 356.6,235.9 357.1,235.1 357.9,234.3 357.9,233.3 358.2,232.4 358.5,231.5 358.5,230.5 359.0,229.7 358.4,228.7 358.6,227.9 358.8,227.0 359.2,226.2 359.4,225.3 360.1,224.5 359.3,223.5 359.5,222.7 360.4,221.9 360.8,221.1 359.5,220.0 360.1,219.2 360.9,218.6 360.4,217.3 361.7,216.9 361.7,215.9 362.8,216.6 362.2,217.8 362.3,218.7 362.3,219.7 362.1,220.8 362.6,221.6 363.4,222.4 363.4,223.3 363.7,224.2 364.8,224.9 363.9,225.9 364.0,226.8 363.8,227.8 365.1,228.5 364.4,229.5 365.6,230.2 364.4,231.3 365.0,232.1 365.1,233.1 366.2,233.1 366.6,233.8 367.1,233.0 367.3,232.1 366.7,231.0 366.5,230.0 368.0,229.4 367.4,228.3 367.2,227.4 367.9,226.6 368.2,225.7 367.8,226.8 367.8,227.7 368.8,228.5 368.2,229.6 370.0,230.1 369.6,231.2 369.8,232.1 369.1,231.0 369.7,230.2 371.2,229.6 369.9,228.4 371.2,227.8 371.2,226.8 372.3,226.2 372.6,225.3 371.1,224.0 371.6,223.2 372.3,222.4 373.4,221.7 372.2,220.6 372.0,219.7 373.5,219.0 373.1,218.1 372.6,217.2 373.2,216.3 373.0,215.4 373.2,214.6 373.5,213.7 372.8,212.8 373.8,212.0 374.6,211.2 374.0,210.3 373.9,209.4 374.5,208.6 373.6,207.6 373.4,206.7 373.2,205.8 375.2,205.0 373.5,204.0 374.1,203.1 374.7,202.3 374.9,201.4 374.8,200.5 374.5,199.6 375.3,198.8 374.6,197.8 375.5,197.0 374.0,196.0 374.9,195.1 375.0,194.3 375.0,193.4 375.1,192.5 375.2,191.6 375.2,190.7 375.3,189.8 375.4,188.9 375.4,188.0 375.5,187.1 375.6,186.2 375.6,185.3 375.7,184.5 375.7,183.6 375.8,182.7 375.9,181.8 375.9,180.9 376.0,180.0 379.2,59.2 381.0,140.0 381.0,140.9 381.1,141.8 381.1,142.7 381.1,143.6 381.2,144.5 381.2,145.5 381.2,146.4 381.3,147.3 381.3,148.2 381.3,149.1 381.4,150.0 381.4,150.9 381.4,151.8 381.4,152.7 381.5,153.6 381.5,154.5 381.5,155.5 381.6,156.4 381.6,157.3 381.6,158.2 381.7,159.1 381.7,160.0 381.7,160.9 381.8,161.8 381.8,162.7 381.8,163.6 381.9,164.5 381.9,165.5 381.9,166.4 382.0,167.3 382.0,168.2 382.0,169.1 382.0,170.0 382.1,170.9 382.1,171.8 382.1,172.7 382.2,173.6 382.2,174.5 382.2,175.5 382.3,176.4 382.3,177.3 382.3,178.2 382.4,179.1 382.4,180.0 382.4,180.9 382.5,181.8 382.5,182.7 382.5,183.6 382.6,184.5 382.6,185.5 382.7,186.4 382.7,187.3 382.7,188.2 382.8,189.1 382.8,190.0 382.9,190.9 383.0,191.8 383.1,192.7 383.2,193.6 383.2,194.5 383.3,195.4 383.0,196.3 384.3,197.1 383.8,198.1 383.8,199.0 384.4,199.8 384.0,200.8 383.3,201.8 385.0,202.5 384.7,203.4 383.3,204.5 384.4,205.3 384.4,206.2 384.7,207.1 383.7,208.1 384.0,208.9 385.3,209.8 384.5,210.7 385.4,211.6 384.3,212.5 384.8,213.4 384.4,214.3 385.9,215.1 384.2,216.2 385.7,217.0 384.5,217.9 385.4,218.8 384.6,219.8 386.2,220.5 386.4,221.4 385.6,222.4 384.7,223.4 385.7,224.2 385.7,225.1 386.5,226.0 385.8,226.9 386.1,227.8 385.2,228.8 385.6,229.6 386.1,230.5 386.3,231.4 387.1,232.2 387.3,233.1 385.9,234.3 386.8,235.0 387.7,235.8 386.7,236.9 388.1,237.6 387.7,238.6 388.0,237.8 389.2,237.3 388.2,235.8 388.6,235.0 388.9,234.2 390.1,233.8 389.6,232.8 390.2,231.9 390.2,231.0 390.3,230.1 389.9,229.1 391.0,228.3 391.0,227.4 391.8,226.6 391.1,225.5 391.8,224.7 391.4,223.7 392.4,222.9 391.4,221.8 392.2,221.0 392.2,220.1 392.5,219.2 392.7,218.4 393.1,217.6 393.4,216.8 393.3,215.8 394.5,215.3 394.2,214.3 393.4,215.3 394.3,216.1 394.2,217.1 394.1,218.0 395.0,218.8 394.6,219.8 394.9,220.7 395.0,221.6 395.3,222.5 395.1,223.4 395.8,224.3 395.9,225.2 396.0,226.1 395.4,227.1 396.1,227.9 395.2,229.0 395.0,229.9 395.4,230.8 396.4,231.6 395.2,232.6 396.5,233.4 396.6,234.3 396.2,235.3 396.5,236.2 397.0,235.4 396.6,234.4 397.5,233.7 397.8,232.8 396.8,231.8 396.8,230.9 397.3,230.1 398.0,229.3 398.1,228.5 397.3,227.4 397.8,226.6 399.0,225.9 399.2,225.1 398.7,224.1 398.6,223.2 399.7,222.9 400.5,222.2 400.8,221.0 401.5,221.8 402.0,222.6 401.1,223.8 401.8,224.6 401.3,225.6 402.3,226.4 402.2,227.3 401.7,228.4 403.2,229.0 402.8,230.0 403.5,230.9 403.0,231.9 403.2,232.7 403.1,233.7 402.9,234.6 403.6,235.3 405.0,235.7 404.7,236.7 404.8,237.6 405.1,238.4 405.5,237.5 405.7,236.7 406.3,235.8 406.3,234.9 405.0,233.9 404.9,233.0 406.7,232.2 405.1,231.2 406.8,230.4 405.2,229.4 406.2,228.6 405.4,227.6 405.5,226.7 406.0,225.8 407.0,225.0 406.9,224.1 406.6,223.2 406.5,222.2 406.4,221.2 407.1,220.4 407.0,219.4 407.4,218.5 408.1,217.7 408.4,216.8 408.5,217.7 407.8,218.7 409.5,219.4 408.8,220.4 408.8,221.3 409.8,222.1 409.5,223.1 410.0,224.0 408.6,225.0 409.8,225.8 410.5,226.7 409.8,227.7 409.8,228.6 409.2,229.6 409.6,230.4 410.8,231.2 409.5,232.3 411.4,233.0 410.5,234.0 410.2,234.9 411.6,235.7 410.1,236.8 411.4,237.6 410.3,238.6 410.4,239.5 410.5,240.4 411.9,241.2 411.4,242.2 412.1,243.0 411.0,244.1 410.5,245.0 411.5,245.8 411.3,246.8 411.4,247.7 412.5,248.5 412.1,249.5 412.3,250.4 411.5,251.4 412.3,252.2 412.5,253.1 412.2,254.1 413.0,254.9 413.3,255.8 413.1,256.7 413.6,257.6 412.7,258.6 413.2,257.7 412.9,256.8 413.4,255.9 413.4,255.0 412.6,253.9 414.2,253.2 414.4,252.3 412.9,251.1 413.9,250.4 414.7,249.6 414.1,248.5 415.2,247.8 415.0,246.8 415.1,245.9 414.9,244.9 415.8,244.1 415.7,243.2 415.4,242.2 414.5,241.2 415.4,240.4 416.0,239.6 415.8,238.6 416.1,237.8 415.7,236.8 416.8,236.1 415.8,235.0 416.7,234.2 416.4,233.3 415.9,232.3 415.8,231.4 416.1,230.5 417.0,229.7 417.1,228.6 417.8,228.0 417.5,226.7 418.0,225.9 419.2,225.4 420.2,225.0 421.0,224.5 420.7,223.1 421.3,222.4 422.0,221.9 422.4,221.0 423.4,221.6 422.9,222.7 422.9,223.6 422.7,224.6 423.5,225.2 424.0,226.0 424.5,226.7 424.6,227.6 425.6,226.9 425.1,225.9 425.2,224.9 425.9,224.2 425.7,223.2 425.6,222.3 425.0,221.4 426.1,220.5 426.7,219.7 425.8,218.7 425.3,217.8 425.4,216.9 427.0,216.2 425.5,215.1 426.7,214.3 425.6,213.4 426.5,212.5 427.4,211.7 426.1,210.7 426.3,209.8 427.0,209.0 426.8,208.1 427.0,207.2 427.0,206.3 426.7,205.4 426.0,204.4 427.2,203.6 426.5,202.6 427.3,201.8 426.9,200.8 426.6,199.9 428.1,199.1 426.8,198.1 428.1,197.3 427.2,196.3 427.3,195.4 427.3,194.5 427.3,193.6 427.3,192.7 427.4,191.8 427.4,190.9 427.4,190.0 427.5,189.1 427.5,188.2 427.5,187.3 427.6,186.3 427.6,185.4 427.6,184.5 427.7,183.6 427.7,182.7 427.7,181.8 427.8,180.9 427.8,180.0 429.7,61.1 431.8,140.0 431.8,140.9 431.9,141.8 431.9,142.7 432.0,143.6 432.0,144.5 432.0,145.5 432.1,146.4 432.1,147.3 432.2,148.2 432.2,149.1 432.2,150.0 432.3,150.9 432.3,151.8 432.4,152.7 432.4,153.6 432.5,154.5 432.5,155.5 432.5,156.4 432.6,157.3 432.6,158.2 432.7,159.1 432.7,160.0 432.7,160.9 432.8,161.8 432.8,162.7 432.9,163.6 432.9,164.5 432.9,165.5 433.0,166.4 433.0,167.3 433.1,168.2 433.1,169.1 433.2,170.0 433.2,170.9 433.2,171.8 433.3,172.7 433.3,173.6 433.4,174.5 433.4,175.5 433.4,176.4 433.5,177.3 433.5,178.2 433.6,179.1 433.6,180.0 433.6,180.9 433.7,181.8 433.7,182.7 433.8,183.6 433.8,184.5 433.9,185.4 433.9,186.3 434.0,187.2 434.0,188.1 434.1,189.0 434.1,189.9 434.1,190.8 434.2,191.7 434.2,192.6 434.3,193.5 434.3,194.4 434.4,195.3 434.4,196.2 434.9,197.1 435.2,198.0 434.2,198.9 434.7,199.8 434.5,200.7 434.7,201.6 435.4,202.5 434.8,203.4 434.6,204.3 434.5,205.3 434.7,206.2 435.3,207.0 434.8,208.0 435.1,208.9 435.4,209.8 435.1,210.7 435.9,211.5 436.4,212.4 436.3,213.3 434.8,214.4 435.0,215.3 435.2,216.2 436.4,217.0 435.3,218.0 435.5,218.9 436.0,219.7 436.6,220.6 437.0,221.5 435.3,222.5 435.4,223.4 435.8,224.3 436.7,225.2 436.2,226.1 435.9,227.0 436.7,227.9 437.6,228.7 436.9,229.7 436.2,230.8 437.2,231.5 437.0,232.4 437.5,233.2 438.8,233.8 438.2,234.9 439.3,235.6 439.0,236.6 437.9,237.7 439.0,238.4 439.5,237.6 439.4,236.7 438.7,235.6 440.0,235.0 440.0,234.1 440.2,233.2 440.5,232.4 441.1,231.6 440.3,230.6 440.6,229.7 440.7,230.6 441.2,231.4 441.5,232.3 441.6,233.3 442.3,234.0 443.1,234.8 443.5,235.6 443.6,236.6 443.9,237.5 443.1,238.6 443.8,239.4 443.0,240.5 444.4,241.1 444.6,242.0 443.4,243.2 445.1,243.8 444.5,244.9 445.0,245.7 444.5,246.7 444.9,247.5 445.6,248.2 446.1,249.0 445.5,250.0 445.8,249.1 445.2,248.1 446.6,247.4 445.5,246.3 447.0,245.5 445.3,244.4 446.6,243.6 446.0,242.6 446.5,241.8 446.6,240.9 447.4,240.0 446.3,239.0 447.6,238.2 446.2,237.1 447.6,236.3 447.4,235.4 448.2,234.6 447.5,233.6 448.5,232.9 447.6,231.8 447.8,231.0 449.0,230.3 449.3,229.4 449.0,228.5 448.0,227.4 449.6,226.8 448.6,225.7 449.7,225.0 449.1,224.0 449.0,223.0 449.0,222.0 449.3,221.1 450.4,220.4 451.2,219.7 450.5,218.5 450.7,217.6 451.8,217.6 451.5,218.9 452.3,219.2 451.8,220.3 452.2,221.2 454.0,221.7 453.6,222.8 452.9,224.0 453.3,224.9 453.9,225.7 455.1,225.2 455.2,224.3 455.3,223.4 455.3,222.6 455.0,221.5 455.5,220.8 456.6,221.5 455.4,222.7 456.2,223.5 455.5,224.5 457.2,225.1 455.9,226.3 456.5,227.2 456.3,228.2 457.2,228.9 456.9,229.8 457.6,230.6 457.5,231.5 458.5,232.3 458.3,233.2 457.8,234.1 458.7,234.9 458.5,235.8 458.0,236.8 458.2,237.6 457.8,238.6 458.8,239.3 458.8,240.2 458.9,241.2 459.4,242.0 459.0,243.1 459.5,244.0 459.1,245.1 460.9,245.6 460.4,246.7 459.8,245.7 460.2,244.8 461.0,244.0 461.1,243.0 460.4,242.0 460.6,241.1 461.4,240.3 460.8,239.3 462.1,238.5 460.8,237.4 462.2,236.6 461.1,235.6 462.3,234.8 462.0,233.8 462.7,233.0 463.1,232.1 463.1,231.2 461.4,230.1 462.8,229.3 463.4,228.5 463.2,227.6 462.6,226.6 463.3,225.7 462.5,224.8 463.6,224.0 462.9,223.0 464.1,222.2 462.3,221.1 463.5,220.3 462.7,219.3 464.0,218.6 463.6,217.6 464.6,216.8 463.8,215.8 464.6,214.9 463.5,213.9 463.2,212.9 464.8,212.2 464.2,211.2 463.6,210.2 464.9,209.4 465.5,208.6 463.9,207.5 465.1,206.7 464.7,205.7 464.2,204.7 464.3,203.8 465.3,203.0 466.4,203.7 466.1,204.7 466.4,205.6 466.1,206.7 466.2,207.6 466.0,208.7 466.9,209.4 467.7,208.5 466.3,207.6 467.3,206.7 467.8,205.9 466.6,204.9 467.3,204.1 468.2,203.2 467.5,202.3 467.7,201.4 466.9,200.5 468.3,199.6 468.0,198.7 467.1,197.8 467.1,196.9 466.5,196.0 467.5,195.1 467.6,194.3 467.6,193.4 467.6,192.5 467.7,191.6 467.7,190.7 467.8,189.8 467.8,188.9 467.8,188.0 467.9,187.1 467.9,186.2 468.0,185.3 468.0,184.5 468.0,183.6 468.1,182.7 468.1,181.8 468.2,180.9 468.2,180.0 471.6,59.7 473.8,140.0 473.8,140.9 473.9,141.8 473.9,142.7 474.0,143.6 474.0,144.5 474.1,145.5 474.1,146.4 474.2,147.3 474.2,148.2 474.3,149.1 474.3,150.0 474.3,150.9 474.4,151.8 474.4,152.7 474.5,153.6 474.5,154.5 474.6,155.5 474.6,156.4 474.7,157.3 474.7,158.2 474.8,159.1 474.8,160.0 474.8,160.9 474.9,161.8 474.9,162.7 475.0,163.6 475.0,164.5 475.1,165.5 475.1,166.4 475.2,167.3 475.2,168.2 475.3,169.1 475.3,170.0 475.3,170.9 475.4,171.8 475.4,172.7 475.5,173.6 475.5,174.5 475.6,175.5 475.6,176.4 475.7,177.3 475.7,178.2 475.8,179.1 475.8,180.0 475.8,180.9 475.8,181.8 475.8,182.7 475.8,183.6 475.8,184.5 475.9,185.5 475.9,186.4 475.9,187.3 475.9,188.2 475.9,189.1 475.9,190.0 475.9,190.9 475.9,191.8 476.0,192.7 476.0,193.6 476.0,194.5 476.0,195.4 476.1,196.3 475.3,197.2 475.5,198.1 476.8,199.0 476.6,199.9 476.8,200.8 476.6,201.7 476.8,202.6 476.9,203.5 476.1,204.4 475.4,205.3 475.5,206.2 476.0,207.1 476.7,208.0 475.5,208.9 476.9,209.8 477.3,210.7 476.9,211.6 475.8,212.5 476.0,213.4 476.8,214.3 477.0,215.2 476.2,216.1 476.5,217.0 475.9,217.9 476.6,218.8 477.4,219.7 477.4,220.6 477.1,221.5 476.6,222.4 476.6,223.3 476.3,224.2 476.7,225.1 477.8,226.0 476.0,227.0 477.1,227.8 477.0,228.8 477.7,229.6 477.7,230.5 477.8,231.4 477.1,232.4 476.6,233.4 477.9,234.2 477.8,235.1 478.0,236.0 478.6,236.9 478.7,237.8 477.2,238.8 476.9,239.7 478.8,240.5 478.8,241.4 478.1,242.4 478.5,243.3 478.6,244.2 478.2,245.1 477.6,246.0 479.0,246.7 479.1,247.5 477.9,248.6 478.5,249.3 478.5,250.2 479.0,251.0 479.4,250.1 478.2,249.1 480.2,248.4 478.4,247.4 478.8,246.5 479.4,245.6 480.2,244.8 480.5,243.9 478.7,242.9 479.0,242.0 478.8,241.1 479.2,240.2 480.8,239.5 479.2,238.5 480.2,237.6 479.6,236.7 479.3,235.8 479.9,234.9 479.9,234.0 480.6,233.2 481.3,232.3 480.7,231.4 480.7,230.5 480.9,229.6 480.5,228.6 480.4,227.7 481.1,226.8 481.1,225.9 482.2,225.1 480.9,224.0 480.7,223.0 480.8,222.1 481.5,221.2 481.4,220.3 481.9,219.4 482.9,218.6 482.3,217.6 482.3,218.6 482.9,219.3 482.9,220.3 483.9,220.8 483.3,221.8 485.0,222.4 483.9,223.5 485.1,224.2 484.7,225.1 484.9,226.0 485.2,226.8 485.8,227.6 485.6,228.5 484.7,229.6 484.3,230.5 484.6,231.3 485.5,232.1 486.6,232.9 485.6,233.9 486.5,234.8 486.0,235.8 486.0,236.7 486.9,237.5 487.2,238.4 486.5,239.4 487.5,240.2 486.1,241.3 486.1,242.3 487.9,243.0 487.1,244.0 487.8,243.2 488.0,242.3 486.6,241.1 487.8,240.4 487.7,239.4 487.2,238.4 488.6,237.7 488.3,236.7 488.9,235.8 489.3,235.0 489.5,234.1 489.0,233.1 488.8,232.1 489.8,231.5 488.5,230.2 489.3,229.6 489.8,228.9 490.2,228.1 490.4,227.3 490.8,228.1 490.1,229.2 490.7,230.0 490.3,230.9 491.2,231.7 490.4,232.7 491.7,233.4 490.6,234.5 491.6,235.3 492.1,236.1 492.0,237.0 492.0,238.0 493.2,238.7 492.3,239.9 492.7,240.8 492.6,241.8 494.2,242.4 493.6,243.5 493.5,242.6 493.9,241.7 493.0,240.8 494.4,240.0 494.8,239.1 494.3,238.2 494.7,237.3 495.1,236.5 494.2,235.5 494.4,234.6 495.3,233.8 494.9,232.9 494.2,231.9 494.9,231.1 495.3,230.2 495.6,229.3 494.2,228.3 494.4,227.4 495.5,226.6 495.2,225.7 495.7,224.8 495.8,223.9 495.5,223.0 495.3,222.1 496.6,221.3 495.3,220.2 495.4,219.3 495.0,218.4 495.2,217.5 496.4,216.7 496.6,215.8 495.8,214.8 496.9,214.0 495.9,213.0 496.4,212.1 497.0,211.2 497.4,210.4 496.9,209.4 497.4,210.2 497.1,211.3 498.2,211.9 498.5,212.7 498.3,213.6 498.1,214.5 498.7,215.3 498.8,216.2 498.2,217.1 500.1,217.8 500.2,218.6 500.3,219.5 499.8,220.5 499.5,221.4 499.4,222.3 499.4,223.1 500.8,223.8 499.3,224.9 500.1,225.7 500.7,226.5 499.3,227.6 500.7,228.4 499.8,229.4 500.1,230.2 501.6,231.0 500.7,232.0 501.0,232.9 499.9,233.9 501.5,234.6 501.3,235.6 501.8,236.4 502.2,237.3 501.3,238.3 501.2,239.2 502.2,240.0 500.9,241.1 501.7,241.9 501.4,240.9 503.1,240.5 502.8,239.6 503.7,238.9 502.9,237.8 503.3,237.0 504.1,236.3 503.8,235.3 504.2,234.5 503.8,233.6 504.2,232.8 504.3,231.9 505.3,232.3 506.0,233.1 506.5,234.0 507.5,233.3 506.0,232.0 507.7,231.4 507.7,230.5 506.7,229.4 507.4,228.6 508.4,227.8 507.9,226.8 508.1,225.9 508.3,225.0 507.8,224.0 508.6,223.2 509.6,222.3 509.2,221.4 508.3,220.5 508.4,219.6 509.2,218.7 509.6,217.8 509.0,216.9 508.5,216.0 508.7,215.1 509.1,214.2 509.8,213.3 509.5,212.4 508.5,211.5 508.2,210.6 509.5,209.7 508.7,208.8 510.0,207.9 508.6,207.0 510.3,206.1 510.0,205.2 508.9,204.3 508.5,203.4 510.1,202.5 508.7,201.6 508.8,200.7 509.3,199.8 509.0,198.9 508.8,198.0 509.8,197.1 510.0,196.2 509.8,195.3 509.8,194.4 509.8,193.5 509.9,192.6 509.9,191.7 509.9,190.8 510.0,189.9 510.0,189.0 510.1,188.1 510.1,187.2 510.1,186.3 510.2,185.4 510.2,184.5 510.2,183.6 510.3,182.7 510.3,181.8 510.4,180.9 510.4,180.0 513.5,46.2 515.0,140.0 515.0,140.9 515.1,141.8 515.1,142.7 515.1,143.6 515.1,144.5 515.2,145.5 515.2,146.4 515.2,147.3 515.2,148.2 515.3,149.1 515.3,150.0 515.3,150.9 515.4,151.8 515.4,152.7 515.4,153.6 515.4,154.5 515.5,155.5 515.5,156.4 515.5,157.3 515.5,158.2 515.6,159.1 515.6,160.0 515.6,160.9 515.7,161.8 515.7,162.7 515.7,163.6 515.7,164.5 515.8,165.5 515.8,166.4 515.8,167.3 515.8,168.2 515.9,169.1 515.9,170.0 515.9,170.9 516.0,171.8 516.0,172.7 516.0,173.6 516.0,174.5 516.1,175.5 516.1,176.4 516.1,177.3 516.1,178.2 516.2,179.1 516.2,180.0 516.2,180.9 516.3,181.8 516.3,182.6 516.4,183.5 516.4,184.4 516.5,185.3 516.5,186.2 516.6,187.1 516.6,187.9 516.7,188.8 516.7,189.7 516.8,190.6 516.8,191.5 516.9,192.4 516.9,193.2 517.0,194.1 517.0,195.0 517.1,195.9 516.6,196.8 518.1,197.6 518.2,198.4 517.4,199.4 517.0,200.3 518.1,201.1 517.4,202.0 518.4,202.8 516.9,203.8 517.1,204.7 517.0,205.6 518.2,206.4 518.9,207.2 517.5,208.2 518.3,209.0 518.5,209.9 518.5,210.8 518.0,211.7 518.0,212.6 518.7,213.4 518.6,214.3 519.2,215.2 519.5,216.0 519.8,216.9 518.1,218.1 518.2,219.0 520.1,219.7 519.2,220.7 518.5,221.7 519.4,222.5 518.7,223.5 520.5,224.3 519.4,225.3 519.3,226.2 520.9,227.0 520.8,227.9 520.3,228.9 519.6,229.9 521.1,230.6 520.5,231.6 520.1,232.6 520.6,233.4 520.6,234.3 521.7,235.0 520.8,236.1 522.3,236.7 522.0,237.7 521.9,238.6 522.2,239.4 522.0,240.4 523.6,240.8 523.8,241.6 523.5,242.6 523.5,243.5 522.9,242.5 524.5,241.8 523.6,240.8 524.0,240.0 523.8,239.0 524.7,238.2 524.9,237.3 524.9,236.5 523.4,235.4 524.5,234.6 524.9,233.8 525.3,232.9 524.7,231.9 524.6,231.0 524.1,230.1 523.8,229.2 523.9,228.3 524.5,227.4 525.5,226.6 525.1,225.7 525.0,224.8 525.4,224.0 525.0,223.0 526.5,222.3 526.5,221.4 525.4,220.4 525.7,219.5 525.3,218.6 526.0,217.8 525.8,216.9 526.9,216.1 526.2,215.1 526.7,214.3 527.2,213.5 526.1,212.4 527.6,211.7 527.6,210.8 527.1,209.8 528.2,209.1 528.5,208.3 528.7,207.4 528.5,206.4 528.1,205.5 528.4,204.6 528.6,205.5 528.7,206.4 529.9,206.8 530.0,207.8 529.3,208.8 529.6,209.6 529.9,210.5 529.8,211.4 531.3,212.2 529.9,213.2 530.7,214.1 530.3,215.0 530.4,215.9 531.0,216.7 530.4,217.7 530.2,218.6 530.1,219.5 532.1,220.2 530.4,221.3 530.7,222.2 531.2,223.0 530.9,224.0 531.8,224.8 531.6,225.7 531.9,226.6 532.7,227.4 531.0,228.5 531.4,229.4 532.1,230.2 532.0,231.2 531.7,232.1 533.1,232.9 532.4,233.9 532.2,234.8 532.5,235.7 531.9,236.7 533.4,237.4 532.6,238.4 532.5,239.4 533.2,240.2 533.9,240.6 533.6,241.9 534.8,241.9 534.7,241.0 534.3,240.1 534.5,239.2 535.0,238.4 536.3,237.7 536.3,236.8 536.4,235.9 536.0,235.0 535.8,234.1 536.2,233.3 536.3,232.4 537.1,231.6 536.1,230.6 536.2,229.7 536.5,228.9 536.5,229.9 536.8,230.8 537.3,231.5 538.1,232.1 537.7,231.0 538.8,230.3 538.3,229.2 538.6,228.3 538.8,227.4 538.5,226.4 539.7,225.7 539.2,224.6 540.6,224.0 541.1,223.2 540.0,221.9 541.9,221.5 541.2,220.3 542.1,219.6 541.0,218.2 542.1,217.6 541.6,216.5 543.3,216.2 542.2,214.9 542.4,214.0 543.8,213.6 543.8,212.7 544.8,213.5 544.2,214.4 543.5,215.4 545.0,216.1 543.7,217.1 543.6,218.0 543.6,218.9 544.4,219.7 544.1,220.6 545.5,221.3 544.8,222.3 544.3,223.2 544.5,224.1 545.9,224.8 545.4,225.7 544.9,226.7 545.8,227.5 545.7,228.5 545.3,229.5 545.6,230.3 546.4,231.2 545.5,232.2 545.5,233.2 545.8,234.1 547.4,234.8 547.6,235.7 546.6,236.8 547.7,237.6 547.0,238.6 548.0,239.3 546.6,240.5 548.4,241.1 548.1,242.1 548.3,243.0 547.2,244.2 547.4,245.1 547.9,245.9 548.6,246.7 548.8,247.6 549.5,248.5 547.9,249.5 549.5,250.3 548.7,251.3 548.5,252.3 549.1,253.2 548.5,254.1 549.3,255.0 550.3,254.2 549.2,253.2 550.0,252.3 548.8,251.3 549.6,250.5 550.1,249.6 549.4,248.7 549.7,247.8 550.6,246.9 549.5,245.9 550.2,245.1 551.2,244.4 549.9,243.2 550.2,242.3 551.2,241.5 550.6,240.5 552.0,239.8 551.2,238.7 551.0,237.7 551.9,237.0 552.4,236.2 552.1,235.2 552.6,234.4 551.8,233.4 551.8,232.5 552.5,231.7 553.0,230.9 552.6,230.0 552.8,229.1 554.2,228.5 553.2,227.4 553.5,226.5 554.7,225.9 555.1,225.0 554.3,224.0 554.9,223.1 553.8,222.1 555.1,221.3 553.9,220.2 555.4,219.5 554.5,218.5 554.4,217.5 555.0,216.7 554.5,215.7 555.6,214.9 556.0,214.0 555.5,213.0 556.3,213.8 557.4,214.0 558.4,213.9 558.0,212.5 559.0,212.4 558.6,211.5 559.7,210.6 558.7,209.6 559.6,208.8 559.3,207.8 558.5,206.9 558.7,206.0 560.1,205.1 560.1,204.2 559.5,203.2 558.4,202.3 558.4,201.4 560.3,200.5 560.0,199.6 559.9,198.7 559.0,197.7 560.4,196.9 559.6,195.9 559.6,195.0 559.6,194.1 559.6,193.2 559.7,192.4 559.7,191.5 559.7,190.6 559.7,189.7 559.8,188.8 559.8,187.9 559.8,187.1 559.8,186.2 559.9,185.3 559.9,184.4 559.9,183.5 559.9,182.6 560.0,181.8 560.0,180.9 560.0,180.0 562.7,60.3 564.5,140.0 564.5,140.9 564.6,141.8 564.6,142.7 564.6,143.6 564.7,144.5 564.7,145.4 564.7,146.3 564.8,147.2 564.8,148.1 564.8,149.0 564.9,149.9 564.9,150.8 564.9,151.7 565.0,152.6 565.0,153.5 565.0,154.4 565.1,155.3 565.1,156.2 565.1,157.1 565.2,158.0 565.2,158.9 565.2,159.8 565.3,160.7 565.3,161.6 565.3,162.5 565.4,163.4 565.4,164.3 565.4,165.2 565.5,166.1 565.5,167.0 565.5,168.0 565.5,168.9 565.6,169.8 565.6,170.7 565.6,171.6 565.7,172.5 565.7,173.4 565.7,174.3 565.8,175.2 565.8,176.1 565.8,177.0 565.9,177.9 565.9,178.8 565.9,179.7 566.0,180.6 566.0,181.5 566.0,182.4 566.1,183.3 566.1,184.2 566.1,185.1 566.2,186.0 566.2,186.9 566.2,187.8 566.3,188.7 566.3,189.6 566.3,190.5 566.4,191.4 566.4,192.3 566.4,193.2 566.5,194.1 566.5,195.0 566.5,195.9 567.4,196.8 566.2,197.7 566.3,198.6 566.9,199.5 566.1,200.4 567.3,201.3 565.8,202.2 565.9,203.1 567.1,204.0 567.2,204.9 566.3,205.8 567.2,206.7 566.8,207.6 566.6,208.5 566.1,209.4 566.5,210.3 567.5,211.2 567.4,212.1 568.0,212.9 566.6,213.9 566.5,214.8 567.8,215.6 567.3,216.6 567.6,217.5 567.8,218.3 568.3,219.2 567.2,220.2 566.5,221.1 568.1,221.9 567.0,222.9 567.0,223.8 567.5,224.7 566.9,225.6 567.8,226.4 567.4,227.4 568.6,228.2 568.4,229.1 567.6,230.0 567.1,231.0 567.9,231.8 567.0,232.8 567.9,233.6 568.1,234.5 567.4,235.5 567.1,236.4 567.2,237.3 567.7,238.1 568.7,239.0 568.5,239.9 568.0,240.8 569.1,241.7 568.6,242.6 567.7,243.5 568.8,244.4 568.0,245.3 568.7,246.2 569.1,247.1 568.7,248.0 568.8,248.9 568.9,249.8 568.9,250.7 567.7,251.6 568.4,252.5 568.6,253.4 568.6,252.5 568.2,251.6 568.3,250.7 569.4,249.8 568.5,248.9 568.2,247.9 568.7,247.1 569.4,246.2 569.9,245.3 569.8,244.4 569.2,243.4 568.6,242.5 570.0,241.7 568.4,240.7 569.5,239.8 570.4,239.0 569.1,238.0 569.6,237.1 569.2,236.2 569.5,235.3 568.9,234.4 570.0,233.5 570.2,232.6 569.1,231.6 568.9,230.7 569.4,229.8 569.7,229.0 569.9,228.1 570.5,227.2 570.2,226.3 569.3,225.3 569.3,224.4 570.2,223.5 569.7,222.6 571.0,221.8 570.9,220.9 571.1,220.0 570.8,219.0 570.0,218.1 571.2,217.2 570.3,216.3 570.1,215.4 570.8,214.5 571.9,215.1 571.5,216.1 570.6,217.3 571.3,218.0 571.6,218.8 572.4,219.5 572.5,220.4 571.8,221.5 571.8,222.4 573.0,223.0 573.4,223.9 573.0,224.8 573.3,225.7 574.0,226.5 573.5,227.5 574.4,228.3 573.1,229.3 574.0,230.1 573.6,231.1 573.4,232.0 574.6,232.7 573.3,233.8 573.3,234.7 574.4,235.5 575.3,236.3 574.2,237.3 574.3,238.2 575.3,239.0 574.3,240.0 575.3,240.8 575.5,241.7 575.1,242.6 574.6,241.5 575.9,241.0 576.4,240.3 576.6,239.4 576.1,238.4 576.4,237.5 576.2,236.5 577.3,236.0 578.3,235.7 579.0,236.2 579.5,237.0 580.2,237.8 580.6,238.6 580.0,239.5 580.9,240.3 580.0,241.3 581.2,242.0 580.5,243.0 581.2,243.7 580.5,244.7 581.3,245.5 580.4,246.5 581.8,247.2 580.5,248.3 580.8,249.2 581.0,250.0 581.4,250.9 581.2,251.8 582.3,252.5 582.1,253.5 583.0,254.2 583.1,255.1 582.5,256.1 582.2,257.1 581.6,258.1 582.7,258.8 583.4,257.9 581.9,257.0 583.7,256.2 582.7,255.2 582.8,254.3 582.3,253.4 582.2,252.5 583.0,251.6 583.2,250.7 583.9,249.9 583.6,249.0 582.7,248.0 583.5,247.2 584.0,246.3 582.9,245.3 583.1,244.4 583.0,243.5 584.5,242.7 582.9,241.7 583.9,240.9 583.4,240.0 584.2,239.1 583.8,238.2 583.9,237.3 583.4,236.4 584.7,235.6 584.1,234.7 583.2,233.7 583.6,232.8 583.6,231.9 584.0,231.1 583.7,230.2 584.7,229.3 584.7,228.4 584.4,227.5 584.2,226.6 585.0,225.8 584.5,224.9 585.4,224.0 585.6,223.2 585.4,222.2 585.9,221.4 584.7,220.4 585.9,219.6 585.0,218.6 586.0,217.8 585.6,216.9 585.0,216.0 585.0,215.1 586.3,214.3 585.6,213.3 585.0,212.4 585.9,211.6 585.1,210.6 585.0,209.7 585.5,208.9 586.0,208.0 586.7,207.2 585.8,206.1 587.3,205.5 585.9,204.3 587.0,203.6 587.5,204.4 588.3,205.2 587.2,206.4 587.5,207.3 587.4,208.3 587.5,209.2 587.5,210.1 588.6,210.8 588.9,211.7 588.6,212.7 589.0,213.6 589.2,214.5 590.0,215.3 589.6,216.2 589.9,217.0 589.0,218.1 590.8,218.7 589.6,219.7 589.8,220.6 589.6,221.5 590.4,222.3 590.3,223.2 591.6,223.8 590.2,224.9 592.0,225.5 591.0,226.6 591.4,227.4 592.3,226.6 593.3,226.9 594.2,227.4 594.1,228.4 594.9,229.1 594.5,230.2 595.6,230.9 596.1,231.7 595.8,232.7 595.7,233.7 595.3,234.7 595.4,235.7 596.6,236.3 595.7,237.5 596.8,238.2 597.2,237.3 596.8,236.2 597.7,235.5 598.3,234.7 598.8,233.8 597.9,232.5 598.9,231.8 600.0,231.1 599.3,230.0 598.4,229.0 599.1,228.2 600.3,227.5 598.9,226.3 599.6,225.5 600.5,224.8 599.5,223.7 600.8,223.0 600.7,222.1 600.2,221.1 601.5,220.4 600.2,219.2 600.5,218.4 601.8,217.7 601.7,216.8 601.0,215.8 601.5,214.9 602.6,214.2 601.4,213.1 602.2,212.3 603.4,212.8 603.0,214.0 604.0,214.6 603.6,215.9 604.3,216.6 605.0,217.4 605.3,218.3 604.6,219.3 604.1,220.4 605.1,221.1 604.5,222.2 604.6,223.1 605.3,223.9 605.8,224.7 606.4,225.5 607.1,226.3 606.5,227.4 606.6,228.3 607.5,229.0 607.0,230.0 607.4,230.8 607.4,231.7 607.6,232.5 607.8,233.4 607.3,234.4 608.2,235.1 609.2,235.7 608.0,236.9 608.4,237.7 609.4,238.4 609.4,239.3 609.4,240.2 609.7,241.0 610.1,241.8 609.8,242.8 609.4,243.8 611.4,244.1 610.0,245.4 611.0,246.0 612.1,245.2 611.9,244.3 611.2,243.3 611.7,242.4 611.4,241.5 611.3,240.6 611.0,239.6 611.2,238.7 611.9,237.9 611.6,237.0 611.5,236.0 612.4,235.2 611.9,234.3 613.1,233.5 611.7,232.4 612.1,231.5 612.5,230.7 612.2,229.7 613.6,229.0 613.0,228.0" stroke="#0000ff" stroke-width="1.3"/>
<polyline points="54.5,240.2 55.0,239.2 55.1,238.2 54.3,237.1 54.5,236.1 55.3,235.2 55.3,234.1 55.3,233.1 55.0,232.1 55.4,231.1 55.5,230.1 55.6,229.0 55.3,228.0 55.7,227.0 55.7,226.0 55.7,225.0 56.1,224.0 56.4,223.0 56.4,222.0 56.0,221.0 56.0,220.0 55.9,219.0 55.7,218.0 55.7,217.0 56.2,216.0 56.1,215.0 56.2,214.0 56.8,213.0 56.5,212.0 56.5,211.0 56.6,210.0 56.3,209.0 56.1,208.0 56.5,207.0 56.3,206.0 56.7,205.0 57.3,204.0 57.0,203.0 56.5,202.0 57.3,201.0 57.2,200.0 57.2,199.0 57.4,198.0 57.3,197.0 57.4,196.0 57.1,195.0 57.1,194.0 57.2,193.0 57.2,192.0 57.3,191.0 57.3,190.0 61.4,57.0 63.0,130.0 64.5,190.0 65.9,250.0 66.1,251.0 65.5,252.0 65.6,253.0 66.4,254.0 65.9,255.0 66.0,256.0 66.3,257.0 66.3,258.0 66.3,259.0 66.0,260.0 66.4,261.0 66.2,262.0 66.5,263.0 66.6,264.0 66.6,265.0 66.7,266.0 66.7,267.0 66.8,268.0 66.8,269.0 66.9,270.0 66.9,271.0 67.0,272.0 67.0,273.0 67.1,274.0 67.1,275.0 67.2,276.0 67.2,277.0 67.3,278.0 67.3,279.0 67.4,280.0 67.4,281.0 67.5,282.0 67.5,283.0 67.6,284.0 67.6,285.0 67.7,286.0 67.8,287.0 67.9,287.9 68.0,288.9 68.0,289.9 68.1,290.9 68.2,291.9 68.3,292.8 68.4,293.8 68.5,294.8 68.6,295.8 68.7,296.8 68.8,297.8 68.8,298.7 68.9,299.7 69.0,300.7 69.1,301.7 69.2,302.7 69.3,303.6 69.4,304.6 69.5,305.6 69.5,306.6 69.6,307.6 69.7,308.5 69.8,309.5 69.9,310.5 70.0,309.5 70.1,308.5 70.1,307.6 70.2,306.6 70.3,305.6 70.4,304.6 70.4,303.7 70.5,302.7 70.6,301.7 70.7,300.7 70.7,299.8 70.8,298.8 70.9,297.8 71.0,296.8 71.0,295.9 71.1,294.9 71.2,293.9 71.3,292.9 71.3,292.0 71.4,291.0 71.5,290.0 71.6,289.0 71.6,288.0 71.7,287.0 71.7,286.0 71.8,285.0 71.8,284.0 71.9,283.0 72.0,282.0 72.0,281.0 72.1,280.0 72.1,279.0 72.2,278.0 72.2,277.0 72.3,276.0 72.4,275.0 72.4,274.0 72.5,273.0 72.5,272.0 72.6,271.0 72.7,270.0 72.7,269.0 72.8,268.0 72.8,267.0 72.9,266.0 72.9,265.0 73.0,264.0 73.1,263.0 73.0,262.0 73.5,261.0 73.6,260.0 73.2,259.0 73.4,258.0 73.8,257.0 73.7,256.0 73.5,255.0 73.3,254.0 73.5,253.0 73.9,252.0 73.4,251.0 73.8,250.0 74.4,249.2 74.0,248.1 74.9,247.4 74.5,246.3 75.4,245.5 75.4,244.6 75.4,243.6 75.6,242.6 75.9,241.7 76.2,240.8 76.4,239.8 76.3,238.8 76.5,237.8 77.0,236.9 77.6,236.1 77.5,235.0 77.2,234.0 78.2,233.2 78.3,232.2 78.7,231.3 78.2,230.2 79.0,229.3 78.5,228.2 79.3,227.4 79.2,226.4 79.4,225.4 80.2,224.6 79.7,223.5 80.3,222.6 80.5,223.6 80.4,224.6 81.2,225.5 81.4,226.5 80.9,227.6 81.6,228.5 81.5,229.5 82.4,230.4 82.3,231.4 82.7,232.4 82.4,233.4 83.2,234.3 82.5,235.5 83.6,236.3 83.1,237.4 84.0,238.2 84.0,239.2 83.7,240.3 84.5,241.2 84.7,242.2 84.4,243.3 84.9,244.2 85.4,245.1 84.7,246.3 85.7,247.1 86.0,248.0 85.9,249.1 86.0,250.1 86.3,249.1 86.6,248.2 86.1,247.1 86.5,246.1 86.4,245.1 87.0,244.2 87.5,243.2 87.6,242.2 88.0,241.3 88.0,240.3 88.3,239.3 88.3,238.3 88.2,237.3 88.2,236.2 88.8,235.3 88.6,234.3 88.6,233.3 89.1,232.3 89.7,231.4 89.1,230.3 89.7,229.4 89.7,228.4 90.0,227.4 90.2,226.4 90.0,225.3 91.0,224.5 90.5,223.3 91.1,222.4 91.1,221.4 90.9,220.3 91.6,219.4 91.4,218.3 91.5,217.3 91.6,216.3 92.0,215.3 92.1,214.3 92.8,213.4 92.9,212.3 93.5,211.4 93.7,210.4 93.9,209.4 93.4,208.3 93.8,207.3 94.0,206.3 94.5,207.3 94.3,208.3 94.5,209.4 94.6,210.4 94.9,211.4 95.5,212.3 95.6,213.4 95.7,214.4 95.9,215.4 96.7,216.3 96.9,217.3 96.8,218.4 97.3,219.3 97.0,220.5 97.7,221.3 98.1,222.3 98.2,223.3 98.4,224.3 98.7,225.3 98.6,226.4 98.9,227.4 98.9,226.4 98.9,225.3 99.3,224.3 99.0,223.3 99.7,222.3 99.9,221.3 99.7,220.3 99.5,219.2 99.7,218.2 99.8,217.2 99.4,216.1 99.8,215.1 100.0,214.1 99.8,213.1 99.8,212.1 100.5,211.1 100.2,210.0 100.4,209.0 100.5,208.0 101.0,207.0 100.7,206.0 100.4,205.0 101.1,204.0 100.6,203.0 100.3,202.0 101.0,201.0 100.4,200.0 100.7,199.0 101.2,198.0 101.1,197.0 100.5,196.0 101.0,195.0 101.0,194.0 101.1,193.0 101.1,192.0 101.2,191.0 101.2,190.0 101.2,189.0 101.3,188.0 101.3,187.0 101.4,186.0 101.4,185.0 101.4,184.0 101.5,183.0 101.5,182.0 101.6,181.0 101.6,180.0 103.5,78.6 106.6,180.0 108.0,250.0 108.1,251.0 108.2,252.0 108.2,253.0 108.6,254.0 108.3,255.0 108.9,255.9 108.7,256.9 108.7,257.9 108.2,259.0 109.1,259.9 108.5,261.0 109.2,261.9 108.9,262.9 109.0,263.9 109.1,264.9 109.2,265.9 109.2,266.9 109.3,267.9 109.4,268.9 109.4,269.9 109.5,270.9 109.6,271.9 109.7,272.9 109.7,273.9 109.8,274.9 109.9,275.8 109.9,276.8 110.0,277.8 110.1,278.8 110.2,279.8 110.2,280.8 110.3,281.8 110.4,282.8 110.4,283.8 110.5,284.8 110.6,285.8 110.7,286.8 110.7,287.8 110.8,288.8 110.9,289.8 111.0,290.8 111.0,291.7 111.1,292.7 111.2,293.7 111.2,294.7 111.3,295.7 111.4,296.7 111.5,297.7 111.5,298.7 111.6,299.7 111.7,298.7 111.9,297.7 112.0,296.7 112.2,295.7 112.3,294.8 112.5,293.8 112.6,292.8 112.8,291.8 112.9,290.8 113.1,289.8 113.2,288.8 113.4,287.8 113.5,286.8 113.7,285.8 113.8,284.9 113.9,283.9 114.1,282.9 114.2,281.9 114.4,280.9 114.5,279.9 114.7,278.9 114.8,277.9 115.0,276.9 115.1,275.9 115.3,274.9 115.4,274.0 115.6,273.0 115.7,272.0 115.9,271.0 116.0,270.0 116.1,269.0 116.3,268.0 116.4,267.0 116.6,266.0 116.7,265.0 116.9,264.0 117.0,263.0 117.2,262.0 117.2,261.0 117.4,260.0 117.9,259.0 117.7,258.0 117.5,256.9 117.7,255.9 118.2,255.0 118.0,253.9 118.9,253.1 118.9,252.0 119.4,251.1 119.3,250.1 118.8,248.9 119.6,248.1 119.9,247.1 120.1,246.1 120.0,245.1 120.1,244.0 120.4,243.1 120.9,242.1 120.5,241.0 121.0,240.1 121.1,239.1 121.8,238.2 121.5,237.1 122.1,236.2 122.6,235.3 122.8,234.3 122.6,233.2 122.8,232.2 123.4,231.3 123.5,230.2 124.0,229.3 124.6,228.4 124.7,227.4 124.7,228.4 125.5,229.1 125.7,230.0 126.7,230.5 126.9,231.4 127.2,232.3 126.8,233.4 127.8,234.2 127.7,235.2 128.2,236.2 128.3,237.2 127.6,238.3 127.7,239.3 128.2,240.2 128.8,241.1 128.8,242.1 129.0,243.1 128.7,244.2 128.8,245.2 129.2,246.1 129.3,247.1 129.8,248.0 129.5,249.1 129.3,250.1 129.6,251.1 130.4,252.0 130.1,253.0 130.0,254.0 130.4,255.0 130.3,254.0 131.0,253.1 130.7,252.0 131.0,251.1 130.8,250.1 131.5,249.1 131.4,248.1 131.3,247.1 131.0,246.1 131.4,245.1 131.1,244.1 131.7,243.2 132.1,242.2 131.5,241.1 132.0,240.2 132.1,239.2 132.1,238.2 132.5,237.3 132.8,236.3 132.7,235.3 132.6,234.3 133.2,233.3 132.8,232.3 132.9,231.3 133.6,230.5 133.8,229.5 134.2,228.6 134.5,227.7 134.2,226.6 134.8,225.7 134.9,224.7 135.4,223.9 136.0,223.0 136.0,222.0 136.1,221.0 136.7,221.9 136.4,222.9 136.3,223.9 136.2,224.9 136.6,225.9 136.5,226.9 137.4,227.7 136.6,228.8 137.0,229.8 137.2,230.7 137.0,231.7 137.2,232.7 138.1,233.6 137.5,234.6 137.6,235.6 138.3,236.5 137.9,237.5 138.2,238.5 138.7,239.4 138.5,240.4 138.9,239.4 138.4,238.3 139.0,237.4 138.9,236.4 138.9,235.3 139.3,234.4 139.3,233.4 139.2,232.3 140.0,231.4 139.3,230.3 139.3,229.3 139.9,228.3 140.4,227.4 140.3,226.4 140.5,225.4 140.4,224.3 140.7,223.3 140.5,222.3 140.5,221.3 140.9,220.3 141.0,219.3 140.9,218.2 141.3,217.3 142.3,216.7 142.1,215.6 143.0,214.9 143.4,214.0 143.4,213.0 144.0,212.2 144.2,211.2 144.5,210.2 144.6,209.2 143.9,208.2 144.0,207.2 144.2,206.2 144.3,205.2 144.2,204.2 143.9,203.1 144.5,202.1 144.9,201.1 144.3,200.1 144.5,199.1 144.4,198.1 144.5,197.1 144.9,196.1 144.6,195.1 144.6,194.1 144.6,193.1 144.6,192.1 144.7,191.1 144.7,190.1 144.7,189.1 144.7,188.1 144.7,187.0 144.8,186.0 144.8,185.0 144.8,184.0 144.8,183.0 144.9,182.0 144.9,181.0 144.9,180.0 147.3,76.0 150.5,180.0 151.4,250.0 151.6,251.0 151.4,252.0 151.6,253.0 151.6,254.0 151.2,255.0 152.1,256.0 151.4,257.0 152.0,258.0 151.7,259.0 151.6,260.0 151.8,261.0 152.0,262.0 152.1,263.0 152.1,264.0 152.2,265.0 152.2,266.0 152.3,267.0 152.3,268.0 152.4,269.0 152.4,270.0 152.5,271.0 152.5,272.0 152.6,273.0 152.6,274.0 152.7,275.0 152.7,276.0 152.8,277.0 152.8,278.1 152.9,279.1 152.9,280.1 153.0,281.1 153.0,282.1 153.1,283.1 153.1,284.1 153.2,285.1 153.2,286.1 153.3,287.1 153.3,288.1 153.4,289.1 153.4,290.1 153.5,291.1 153.5,292.1 153.6,293.1 153.6,294.1 153.7,295.1 153.7,296.1 153.8,297.1 153.8,298.1 153.9,299.1 153.9,300.1 154.0,301.1 154.0,302.1 154.1,303.1 154.1,304.1 154.2,305.1 154.3,304.1 154.5,303.1 154.6,302.1 154.7,301.2 154.8,300.2 155.0,299.2 155.1,298.2 155.2,297.2 155.3,296.2 155.5,295.2 155.6,294.3 155.7,293.3 155.8,292.3 156.0,291.3 156.1,290.3 156.2,289.3 156.3,288.4 156.5,287.4 156.6,286.4 156.7,285.4 156.9,284.4 157.0,283.4 157.1,282.4 157.2,281.5 157.4,280.5 157.5,279.5 157.6,278.5 157.7,277.5 157.9,276.5 158.0,275.5 158.1,274.6 158.2,273.6 158.4,272.6 158.5,271.6 158.7,270.6 158.9,269.6 159.1,268.7 159.3,267.7 159.5,266.7 159.7,265.7 159.9,264.8 160.1,263.8 160.4,262.8 160.5,261.8 161.1,260.9 160.6,259.8 161.3,258.9 161.3,257.9 161.6,257.0 162.1,256.0 162.0,255.0 162.4,254.0 162.4,253.0 162.2,252.0 162.2,251.0 162.5,250.0 162.4,248.9 162.6,247.9 163.4,247.0 162.6,245.9 163.5,245.0 163.1,243.9 163.2,242.9 163.3,241.9 163.2,240.9 163.7,239.9 163.5,238.9 163.9,237.9 163.9,236.9 164.6,236.0 164.7,235.0 164.4,233.9 165.2,233.5 166.1,233.4 166.9,233.0 166.9,234.1 167.9,234.8 168.5,235.6 168.7,236.6 169.2,237.5 169.1,238.6 169.8,239.4 170.1,240.4 170.8,241.1 171.0,242.1 172.0,242.6 172.4,243.5 173.0,242.6 173.2,241.6 173.3,240.5 174.0,239.7 174.0,238.6 174.1,237.6 174.8,236.7 175.1,235.7 174.9,234.6 175.3,233.7 175.8,232.8 175.8,231.7 176.1,230.7 176.4,229.8 176.7,228.8 176.8,227.8 177.2,226.8 176.8,225.7 177.3,224.8 177.6,223.8 177.5,222.7 177.8,221.8 178.1,220.8 178.1,219.8 179.2,219.1 179.0,218.0 179.4,217.1 180.2,216.3 179.9,215.1 180.5,214.3 180.3,215.3 181.3,216.1 181.6,217.0 181.5,218.1 181.7,219.0 181.3,220.1 181.6,221.0 181.9,222.0 182.4,222.8 182.5,223.8 183.0,224.7 183.0,225.7 182.8,226.7 183.5,227.7 183.7,228.6 183.6,229.7 184.2,230.6 184.2,231.6 183.8,232.7 184.8,233.5 185.0,234.5 185.1,235.5 185.2,236.5 185.2,237.6 185.6,238.5 185.6,239.5 185.9,240.5 186.1,241.5 185.9,242.5 186.2,243.5 186.2,242.5 186.4,241.5 186.9,240.6 186.3,239.5 186.6,238.6 187.4,237.7 187.1,236.7 187.6,235.7 187.1,234.7 187.7,233.8 188.1,232.8 187.8,231.8 188.4,230.9 188.3,229.9 188.3,228.9 189.0,228.0 188.6,226.9 188.8,225.9 189.1,225.0 189.1,224.0 189.4,224.9 189.0,226.0 189.4,226.9 189.6,227.9 189.8,228.9 189.5,229.9 189.6,230.9 189.9,231.8 190.4,232.8 190.6,233.7 190.6,234.7 191.2,235.6 191.3,236.6 190.6,237.7 191.6,238.6 190.9,239.7 191.3,240.6 191.2,241.6 192.2,242.5 191.9,243.5 191.8,242.5 192.4,241.6 191.7,240.5 191.9,239.5 192.2,238.5 192.1,237.5 192.2,236.6 192.8,235.6 192.3,234.6 193.3,233.7 193.0,232.6 192.5,231.6 193.5,230.7 192.9,229.6 193.2,228.7 193.4,227.7 193.1,226.7 193.5,225.7 193.2,224.7 193.4,223.7 194.2,222.8 194.2,221.8 194.0,220.8 194.2,219.8 194.5,218.8 193.9,217.8 194.3,216.8 194.1,215.8 194.1,214.8 194.2,213.8 194.4,212.9 194.3,211.8 194.6,210.9 194.8,209.9 195.2,208.9 195.5,208.0 195.6,207.0 195.5,206.0 195.4,205.0 195.9,204.0 195.6,203.0 196.1,203.9 196.3,204.9 195.7,206.0 196.0,206.9 196.6,207.8 196.5,208.8 196.7,209.8 196.7,210.8 196.9,211.8 197.0,212.7 196.8,213.7 196.9,214.7 197.3,215.7 197.5,216.6 197.6,217.6 197.9,218.6 197.5,219.6 197.4,220.6 198.2,221.5 197.8,222.6 197.9,223.6 198.1,224.5 198.8,225.5 198.3,226.5 198.8,227.5 198.9,228.5 198.6,229.5 198.6,230.5 198.7,231.5 198.7,232.5 198.8,233.4 199.1,234.4 199.2,235.4 199.8,236.3 199.1,237.4 199.2,238.4 199.3,239.3 199.6,240.3 200.3,241.2 200.2,242.2 200.4,243.1 200.0,244.2 200.2,245.1 200.7,246.1 200.0,247.1 200.1,248.1 200.3,249.1 200.8,250.0 200.8,249.0 200.7,248.0 200.6,247.0 201.3,246.0 201.2,245.0 200.8,244.0 201.5,243.0 201.2,242.0 201.0,241.0 201.1,240.0 201.4,239.1 201.2,238.1 201.4,237.1 200.9,236.0 201.5,235.1 201.2,234.1 201.8,233.1 201.2,232.1 201.3,231.1 201.6,230.1 201.5,229.1 201.6,228.1 202.1,227.1 201.4,226.1 202.0,225.1 201.9,224.1 202.1,223.1 201.8,222.1 201.8,221.1 201.7,220.1 201.9,219.1 201.7,218.1 201.7,217.1 202.0,216.2 201.8,215.1 202.1,214.2 202.2,213.2 202.0,212.2 201.9,211.2 202.4,210.2 202.7,209.2 202.0,208.2 202.5,207.2 202.4,206.2 202.6,205.2 202.9,204.2 202.8,203.2 202.5,202.2 202.4,201.1 203.1,200.2 202.6,199.1 202.4,198.1 203.3,197.2 202.7,196.1 203.1,195.1 203.1,194.1 203.2,193.1 203.3,192.1 203.3,191.1 203.4,190.1 203.4,189.1 203.5,188.1 203.6,187.1 203.6,186.0 203.7,185.0 203.8,184.0 203.8,183.0 203.9,182.0 203.9,181.0 204.0,180.0 206.0,59.7 208.6,180.0 210.8,250.0 211.1,251.0 211.1,252.0 211.3,253.0 210.9,254.0 211.4,254.9 211.3,255.9 211.4,256.9 211.1,258.0 212.0,258.9 211.5,259.9 212.1,260.9 212.1,261.9 211.9,262.9 211.9,263.9 212.0,264.9 212.1,265.9 212.2,266.9 212.3,267.9 212.3,268.8 212.4,269.8 212.5,270.8 212.6,271.8 212.7,272.8 212.8,273.8 212.8,274.8 212.9,275.8 213.0,276.8 213.1,277.8 213.2,278.8 213.2,279.8 213.3,280.7 213.4,281.7 213.5,282.7 213.6,283.7 213.6,284.7 213.7,285.7 213.8,286.7 213.9,287.7 214.0,288.7 214.0,289.7 214.1,290.7 214.2,291.7 214.3,292.6 214.4,293.6 214.5,294.6 214.5,295.6 214.6,296.6 214.7,297.6 214.8,296.6 214.9,295.6 215.0,294.6 215.1,293.6 215.2,292.6 215.3,291.7 215.5,290.7 215.6,289.7 215.7,288.7 215.8,287.7 215.9,286.7 216.0,285.7 216.1,284.7 216.2,283.7 216.3,282.7 216.4,281.7 216.5,280.7 216.7,279.8 216.8,278.8 216.9,277.8 217.0,276.8 217.1,275.8 217.2,274.8 217.3,273.8 217.4,272.8 217.5,271.8 217.6,270.8 217.7,269.8 217.8,268.8 217.9,267.9 218.1,266.9 218.2,265.9 218.3,264.9 218.4,263.9 218.5,262.9 218.7,261.9 218.6,260.9 218.4,259.9 219.0,258.9 219.4,258.0 219.3,257.0 219.2,255.9 219.7,255.0 219.9,254.0 219.2,252.9 219.5,252.0 220.3,251.0 219.9,250.0 220.4,249.0 219.7,248.0 220.2,247.0 220.4,246.0 220.2,245.0 220.3,244.0 220.2,243.0 219.9,242.0 220.0,241.0 219.8,240.0 220.5,239.0 220.0,238.0 220.5,237.0 220.3,236.0 220.4,235.0 220.5,234.0 221.5,233.4 221.7,232.2 222.5,231.4 223.0,230.5 223.8,229.7 224.7,230.2 225.5,231.0 226.0,231.9 226.2,230.9 226.6,230.0 226.1,228.8 227.1,228.0 227.0,226.9 226.5,225.8 227.3,224.9 227.2,223.9 227.5,222.9 227.2,221.8 227.8,220.9 228.0,219.9 228.1,218.9 228.0,219.9 228.3,220.9 228.3,221.9 228.5,223.0 229.1,223.9 229.5,224.9 229.1,225.9 229.6,226.9 229.8,227.9 229.7,228.9 229.7,230.0 229.7,231.0 229.9,232.0 229.7,233.1 230.3,234.0 230.9,234.9 230.7,236.0 231.4,236.9 231.1,238.0 231.6,239.0 232.1,239.9 232.2,241.0 232.1,242.0 232.5,243.0 232.3,244.1 233.1,245.0 233.4,246.0 233.5,247.0 234.0,246.0 233.9,245.0 233.5,243.9 234.3,243.0 234.0,241.9 234.7,241.0 234.5,239.9 234.8,238.9 235.1,237.9 234.8,236.8 235.4,235.9 234.6,234.7 235.0,233.8 235.6,232.8 235.0,231.7 235.7,230.7 235.7,229.7 236.4,228.9 236.4,227.8 236.8,226.9 236.2,225.7 236.9,224.9 237.2,223.9 237.3,222.9 237.5,221.9 237.8,221.0 238.8,220.7 239.3,219.7 240.0,219.0 241.1,218.9 241.7,219.7 242.2,220.6 243.2,221.0 243.0,222.1 243.4,223.0 243.9,224.0 243.5,225.1 244.5,225.9 244.5,227.0 244.1,228.0 244.2,229.1 244.8,230.0 244.5,231.1 245.4,231.9 245.1,233.0 245.4,234.0 246.1,234.7 246.3,235.7 246.7,236.5 247.2,237.3 247.1,238.4 247.0,237.4 247.2,236.4 247.0,235.4 247.4,234.4 246.8,233.3 247.3,232.4 247.4,231.4 247.3,230.3 247.9,229.4 247.1,228.3 247.4,227.3 247.5,226.3 247.5,225.3 248.1,224.3 247.7,223.3 247.7,222.3 247.7,221.3 247.7,220.3 248.3,219.3 248.2,218.3 248.0,217.3 247.6,216.2 248.1,215.2 247.6,214.2 247.9,213.2 247.6,212.2 248.3,211.2 248.6,210.2 248.3,209.2 248.3,208.2 248.0,207.2 248.3,206.2 248.3,205.2 248.3,204.2 248.2,203.1 248.2,202.1 248.8,201.2 249.0,200.2 248.9,199.1 248.7,198.1 248.2,197.1 248.5,196.1 248.7,195.1 248.8,194.1 248.8,193.1 248.8,192.1 248.9,191.1 248.9,190.1 249.0,189.1 249.0,188.1 249.0,187.0 249.1,186.0 249.1,185.0 249.1,184.0 249.2,183.0 249.2,182.0 249.3,181.0 249.3,180.0 251.9,57.0 255.8,180.0 257.3,250.0 260.5,317.0 260.6,316.0 260.6,315.0 260.7,314.0 260.7,313.0 260.8,312.0 260.8,311.0 260.9,310.0 261.0,309.0 261.0,308.0 261.1,307.0 261.1,306.0 261.2,305.0 261.2,304.0 261.3,303.0 261.3,302.0 261.4,301.0 261.5,300.0 261.5,299.0 261.6,298.0 261.6,297.0 261.7,296.0 261.7,295.0 261.8,294.0 261.9,293.0 261.9,292.0 262.0,291.0 262.0,290.0 262.1,289.0 262.1,288.0 262.2,287.0 262.2,286.0 262.3,285.0 262.4,284.0 262.4,283.0 262.5,282.0 262.5,281.0 262.6,280.0 262.6,279.0 262.7,278.0 262.9,277.0 263.1,276.0 263.3,275.0 263.5,274.0 263.7,273.0 263.9,272.0 264.1,271.0 264.4,270.0 264.6,269.0 264.8,268.0 265.0,267.0 265.2,266.0 265.4,265.0 265.6,264.0 265.8,263.0 266.0,262.0 266.4,261.0 266.6,260.0 266.3,259.0 266.4,258.0 266.6,257.0 266.2,256.0 266.7,255.0 266.5,254.0 267.0,253.0 266.7,252.0 267.0,251.0 266.9,250.0 267.0,249.0 267.0,248.0 267.6,247.0 267.4,246.0 267.2,245.0 267.3,244.0 267.8,243.0 267.7,242.0 267.7,241.0 268.1,240.0 267.3,238.9 267.9,238.0 268.0,237.0 267.9,235.9 268.5,235.0 268.5,234.0 268.0,232.9 268.3,231.9 268.6,230.9 268.6,229.9 268.3,228.9 268.8,227.9 268.5,226.9 268.3,225.9 268.9,224.9 269.0,223.9 268.8,222.9 269.0,221.9 269.5,220.9 269.4,219.9 269.2,218.9 269.6,218.0 270.4,217.4 270.6,216.4 270.9,215.4 271.4,214.6 271.4,215.6 271.3,216.6 271.3,217.6 271.7,218.5 271.8,219.5 272.1,220.4 272.6,221.3 272.3,222.4 272.7,223.3 272.0,224.3 272.7,225.3 272.6,226.3 272.5,227.2 273.2,228.1 272.6,229.2 273.3,230.1 273.6,231.0 273.2,232.1 273.5,233.0 273.5,234.0 273.1,235.0 273.7,236.0 274.1,236.9 274.3,237.9 274.3,238.9 273.9,239.9 273.8,240.9 274.5,241.8 274.3,242.8 274.2,243.8 273.9,244.9 273.8,245.8 274.0,246.8 274.3,247.8 274.4,248.8 274.9,249.7 274.5,250.7 275.1,251.7 275.0,252.7 274.5,253.7 274.9,254.7 274.8,255.7 275.1,256.6 275.4,257.6 275.2,258.6 275.3,257.6 275.5,256.6 275.3,255.6 276.0,254.7 276.2,253.7 275.5,252.7 275.7,251.7 276.3,250.8 276.4,249.8 276.0,248.7 276.4,247.8 276.2,246.8 276.9,245.8 276.7,244.8 276.8,243.8 276.5,242.8 276.9,241.9 277.0,240.9 277.0,239.9 277.0,238.9 277.1,237.9 277.7,237.0 278.0,236.0 278.0,235.0 277.8,234.0 278.1,232.9 278.4,231.9 278.0,230.7 278.5,229.7 279.1,230.6 278.8,231.7 279.8,232.5 280.0,233.5 279.6,234.7 280.4,235.5 280.7,236.5 280.8,237.5 280.6,238.6 281.7,239.4 281.5,240.5 282.0,239.6 281.5,238.5 281.9,237.6 281.9,236.6 281.6,235.6 282.5,234.7 281.9,233.6 282.6,232.7 282.7,231.7 282.4,230.7 283.0,229.7 282.2,228.7 282.4,227.7 282.8,226.8 282.5,225.7 283.4,224.8 283.2,223.8 283.5,222.9 283.1,221.8 283.0,220.8 283.9,219.9 283.3,218.9 283.6,217.9 283.5,216.9 284.0,216.0 284.0,215.0 283.8,214.0 283.8,213.0 284.2,212.0 284.7,211.1 284.2,210.0 284.3,209.1 284.7,208.1 285.0,207.2 285.3,206.3 285.6,205.4 285.7,204.4 286.1,203.5 285.6,202.5 286.2,201.6 285.9,202.7 287.0,203.6 287.0,204.6 287.2,205.6 286.7,206.7 287.1,207.7 286.8,208.8 286.9,209.8 287.1,210.8 287.6,211.7 288.0,212.7 287.5,213.8 287.9,214.8 288.6,215.7 288.4,216.8 288.4,217.8 289.0,218.8 289.1,219.8 288.6,220.8 288.6,221.8 288.5,222.8 288.7,223.8 289.4,224.8 288.9,225.9 288.7,226.9 289.1,227.9 289.4,228.8 289.6,229.8 289.9,230.8 289.5,231.9 289.2,232.9 290.1,233.8 289.5,234.9 289.5,235.9 290.1,236.9 289.7,237.9 290.5,238.9 290.4,239.9 290.2,240.9 290.0,241.9 290.4,242.9 290.9,243.9 290.6,244.9 292.0,180.0 294.3,82.7 296.6,180.0 298.4,250.0 298.1,251.0 298.5,252.0 298.4,253.1 299.0,254.0 299.0,255.0 299.3,256.0 299.3,257.0 299.2,258.1 299.3,259.1 299.1,260.1 299.0,261.1 299.4,262.1 299.5,263.1 299.6,264.1 299.7,265.1 299.8,266.2 299.9,267.2 300.0,268.2 300.0,269.2 300.1,270.2 300.2,271.2 300.3,272.2 300.4,273.2 300.5,274.2 300.6,275.2 300.7,276.3 300.7,277.3 300.8,278.3 300.9,279.3 301.0,280.3 301.2,279.3 301.4,278.4 301.5,277.4 301.7,276.5 301.9,275.5 302.1,274.5 302.2,273.6 302.4,272.6 302.6,271.6 302.8,270.7 303.0,269.7 303.1,268.8 303.3,267.8 303.5,266.8 303.7,265.9 303.8,264.9 304.0,264.0 304.2,263.0 304.3,264.0 304.5,264.9 304.6,265.9 304.8,266.9 304.9,267.9 305.0,268.8 305.2,269.8 305.3,270.8 305.5,271.7 305.6,272.7 305.7,273.7 305.9,274.6 306.0,275.6 306.2,276.6 306.3,277.5 306.4,278.5 306.6,279.5 306.7,280.5 306.9,281.4 307.0,282.4 307.1,281.4 307.2,280.4 307.3,279.4 307.4,278.4 307.5,277.4 307.6,276.4 307.8,275.5 307.9,274.5 308.0,273.5 308.1,272.5 308.2,271.5 308.3,270.5 308.4,269.5 308.5,268.5 308.6,267.5 308.7,266.5 308.8,265.5 309.0,264.6 309.1,263.6 309.2,262.6 309.1,261.6 309.8,260.6 309.6,259.6 309.6,258.6 309.5,257.6 309.3,256.6 310.1,255.7 309.8,254.7 309.2,253.7 309.9,252.7 309.6,251.7 309.7,250.7 310.0,249.8 309.5,248.8 309.6,247.8 309.9,246.8 310.2,245.8 309.4,244.8 310.2,243.9 310.1,242.9 309.6,241.9 310.1,240.9 310.1,239.9 310.2,239.0 310.0,238.0 310.0,237.0 310.3,235.9 311.0,235.0 311.2,233.9 311.9,233.1 312.4,232.1 312.8,231.3 313.1,230.3 313.7,229.6 314.4,228.9 314.6,227.9 314.9,227.0 315.4,226.1 315.8,225.3 315.7,224.2 316.3,223.3 316.5,222.4 316.5,221.4 316.6,220.4 316.6,219.4 317.6,218.6 317.7,217.6 317.8,216.6 317.3,215.6 317.4,214.6 317.5,213.6 318.1,212.7 318.4,213.7 318.4,214.7 318.9,215.7 318.6,216.8 318.5,217.8 318.4,218.9 319.2,219.8 319.5,220.8 318.8,221.9 319.4,222.9 319.5,223.9 319.8,224.9 319.8,225.9 319.9,227.0 319.8,228.0 320.2,229.0 320.3,230.0 320.1,231.0 320.0,232.1 320.6,233.0 320.6,234.0 320.6,235.0 320.4,236.1 320.6,237.1 320.5,238.1 321.4,239.0 320.9,240.1 321.5,241.1 321.4,242.1 321.5,243.1 321.6,244.1 321.8,245.1 322.0,246.1 322.4,247.1 322.5,248.0 321.6,249.1 321.7,250.1 322.2,251.1 322.6,252.0 322.0,253.1 322.4,254.0 322.4,255.0 322.3,256.0 322.9,257.0 322.6,258.0 322.4,257.0 323.0,256.1 323.0,255.1 323.3,254.1 322.8,253.1 323.4,252.1 323.4,251.1 323.0,250.1 323.5,249.2 322.8,248.2 322.7,247.2 323.5,246.2 322.9,245.2 323.3,244.2 323.6,243.3 323.6,242.3 323.2,241.3 323.8,240.3 323.1,239.3 323.7,238.4 324.1,237.4 323.8,236.4 323.8,235.4 324.0,234.4 325.0,233.7 325.0,232.7 325.4,231.8 325.9,230.9 326.3,230.0 326.2,228.9 327.4,229.0 328.6,228.9 329.0,227.9 328.8,226.9 328.6,225.9 328.7,224.9 328.8,223.9 328.7,222.9 329.3,222.0 329.2,221.0 329.8,220.0 329.0,219.0 329.9,218.0 329.4,217.0 329.6,216.0 329.6,215.0 330.4,214.1 330.2,213.1 330.1,212.1 330.2,211.1 329.9,210.1 329.9,209.1 330.2,208.1 330.9,207.1 330.4,206.1 330.7,205.1 331.0,204.1 330.2,203.0 330.5,202.1 330.7,201.1 330.6,200.0 330.8,199.1 331.1,198.1 330.6,197.0 331.3,196.1 331.1,195.0 331.2,194.0 331.2,193.0 331.3,192.0 331.4,191.0 331.4,190.0 331.5,189.0 331.5,188.0 331.6,187.0 331.7,186.0 331.7,185.0 331.8,184.0 331.8,183.0 331.9,182.0 331.9,181.0 332.0,180.0 335.7,81.4 337.7,180.0 339.4,250.0 339.7,251.0 339.4,252.0 339.9,252.9 339.4,254.0 339.8,254.9 339.4,256.0 339.4,257.0 339.8,257.9 340.4,258.9 340.2,259.9 339.6,260.9 340.0,261.9 340.2,262.9 340.3,263.9 340.3,264.8 340.4,265.8 340.5,266.8 340.5,267.8 340.6,268.8 340.7,269.8 340.7,270.8 340.8,271.8 340.8,272.8 340.9,273.8 341.0,274.7 341.0,275.7 341.1,276.7 341.2,277.7 341.2,278.7 341.3,279.7 341.3,280.7 341.4,281.7 341.5,282.7 341.5,283.7 341.6,284.6 341.7,285.6 341.7,286.6 341.8,287.6 341.8,288.6 341.9,289.6 342.0,290.6 342.0,291.6 342.1,292.6 342.2,293.6 342.2,294.5 342.3,295.5 342.3,296.5 342.4,297.5 342.5,298.5 342.5,299.5 342.6,300.5 342.7,301.5 342.7,302.5 342.8,303.5 342.8,304.4 342.9,305.4 343.0,306.4 343.0,307.4 343.1,308.4 343.1,307.4 343.2,306.4 343.2,305.4 343.3,304.4 343.3,303.4 343.4,302.4 343.4,301.5 343.5,300.5 343.5,299.5 343.6,298.5 343.6,297.5 343.7,296.5 343.7,295.5 343.7,294.5 343.8,293.5 343.8,292.5 343.9,291.5 343.9,290.6 344.0,289.6 344.0,288.6 344.1,287.6 344.1,286.6 344.2,285.6 344.2,284.6 344.2,283.6 344.3,282.6 344.3,281.6 344.4,280.6 344.4,279.6 344.5,278.6 344.5,277.7 344.6,276.7 344.6,275.7 344.7,274.7 344.7,273.7 344.8,272.7 344.8,271.7 344.8,270.7 344.9,269.7 344.9,268.7 345.0,267.7 345.0,266.8 345.1,265.8 345.1,264.8 345.2,263.8 345.2,262.8 345.5,261.8 345.3,260.8 345.4,259.8 346.0,258.9 346.1,257.9 345.9,256.9 346.0,255.9 345.6,254.9 345.6,253.9 346.0,252.9 346.6,252.0 346.8,251.0 346.9,250.0 347.1,249.1 346.4,248.0 346.5,247.0 346.8,246.1 347.2,245.1 347.9,246.0 347.5,247.1 347.4,248.1 347.7,249.1 348.7,249.9 348.5,251.0 348.6,252.0 348.9,252.9 349.2,253.9 349.7,254.8 350.1,255.7 349.8,256.8 350.0,257.8 350.7,258.6 351.2,257.7 351.4,256.7 351.2,255.6 351.8,254.7 352.1,253.7 352.4,252.8 352.7,251.8 353.4,251.0 353.6,250.0 354.1,249.0 353.9,247.9 354.9,247.1 354.4,245.8 355.6,245.1 355.6,243.9 355.9,243.0 356.1,241.9 356.2,240.8 356.9,239.9 357.4,239.0 357.0,237.8 357.2,236.7 358.2,235.9 358.0,234.7 358.5,233.8 358.3,232.7 358.8,231.8 358.7,230.7 358.8,229.7 359.1,228.7 359.0,227.7 359.9,226.8 359.8,225.7 360.1,224.7 359.9,223.6 360.5,222.7 360.8,221.7 361.0,220.7 360.2,219.6 360.7,218.6 361.0,217.6 361.7,218.4 361.7,219.5 361.8,220.5 362.2,221.5 362.6,222.4 362.9,223.4 362.4,224.4 362.9,225.4 362.6,226.4 363.3,227.3 363.3,228.4 363.9,229.3 363.6,230.3 363.7,231.3 364.2,232.3 363.9,233.3 364.6,234.2 364.4,235.3 364.4,236.3 364.6,237.2 365.1,238.2 365.2,239.2 365.0,240.2 365.1,239.2 365.5,238.2 365.5,237.1 365.5,236.1 365.8,235.1 366.0,234.1 366.0,233.0 366.6,232.1 366.9,231.1 367.0,230.1 367.0,229.0 366.9,228.0 368.0,227.1 367.4,225.9 367.6,224.9 368.2,224.0 368.5,225.0 368.1,226.1 368.1,227.1 368.3,228.1 369.0,229.0 368.5,230.1 369.4,231.0 369.4,232.1 369.5,233.1 369.1,234.1 369.2,235.1 369.3,236.2 369.1,237.2 369.3,238.2 369.5,239.2 369.8,240.2 369.6,239.2 370.5,238.3 370.7,237.4 370.8,236.4 370.2,235.3 371.0,234.4 371.0,233.4 371.2,232.5 371.1,231.5 371.7,230.6 371.9,229.6 372.1,228.6 371.8,227.6 372.4,226.7 372.3,225.7 372.0,224.6 372.7,223.7 372.2,222.6 372.3,221.6 372.5,220.6 373.1,219.7 373.6,218.7 373.2,217.7 373.5,216.7 373.5,215.7 373.9,214.7 374.1,213.7 374.1,212.7 373.7,211.6 373.6,210.6 374.5,209.7 374.0,208.6 374.6,207.6 374.8,206.7 374.3,205.6 374.7,204.6 374.4,203.6 374.7,202.6 375.2,201.7 375.3,200.7 375.5,199.7 374.8,198.7 375.2,197.7 375.5,196.7 375.2,195.7 375.2,194.8 375.3,193.8 375.3,192.8 375.4,191.8 375.4,190.8 375.5,189.8 375.5,188.9 375.6,187.9 375.6,186.9 375.7,185.9 375.7,184.9 375.8,183.9 375.8,183.0 375.9,182.0 375.9,181.0 376.0,180.0 379.2,74.6 382.0,180.0 383.5,250.0 383.7,251.0 383.5,252.0 384.0,253.0 383.4,254.0 383.9,254.9 383.9,255.9 383.8,256.9 384.2,257.9 383.7,258.9 384.1,259.9 384.2,260.9 384.0,261.9 384.3,262.9 384.3,263.9 384.4,264.8 384.5,265.8 384.5,266.8 384.6,267.8 384.6,268.8 384.7,269.8 384.8,270.8 384.8,271.8 384.9,272.8 384.9,273.7 385.0,274.7 385.0,275.7 385.1,276.7 385.2,277.7 385.2,278.7 385.3,279.7 385.3,280.7 385.4,281.7 385.5,282.6 385.5,283.6 385.6,284.6 385.6,285.6 385.7,286.6 385.8,287.6 385.8,288.6 385.9,289.6 385.9,290.6 386.0,291.6 386.1,292.5 386.1,293.5 386.2,294.5 386.2,295.5 386.3,296.5 386.4,295.5 386.6,294.6 386.7,293.6 386.8,292.6 387.0,291.6 387.1,290.7 387.3,289.7 387.4,288.7 387.5,287.7 387.7,286.8 387.8,285.8 387.9,284.8 388.1,283.8 388.2,282.9 388.4,281.9 388.5,280.9 388.6,279.9 388.8,279.0 388.9,278.0 389.0,277.0 389.0,276.0 389.1,275.0 389.2,274.0 389.2,273.0 389.3,272.0 389.4,271.0 389.4,270.0 389.5,269.0 389.6,268.0 389.6,267.0 389.7,266.0 389.8,265.0 389.8,264.0 389.9,263.0 390.1,262.0 390.2,261.0 390.5,260.0 390.5,259.0 390.1,258.0 390.4,257.0 390.7,256.0 390.0,255.0 390.7,254.0 390.6,253.0 390.5,252.0 390.3,251.0 390.6,250.0 391.1,249.0 391.3,248.0 391.5,247.0 391.3,246.0 391.1,245.0 391.6,244.1 391.7,243.0 391.3,241.9 391.9,241.0 392.3,240.0 392.3,239.0 392.0,237.9 392.6,237.0 392.4,235.9 392.6,234.9 393.1,234.0 393.2,232.9 393.2,231.9 393.8,232.8 393.6,233.8 394.4,234.7 394.5,235.6 394.1,236.8 394.3,237.7 395.1,238.5 394.9,239.6 395.4,240.5 395.9,241.4 395.7,242.5 396.0,243.4 396.4,244.4 396.3,245.4 396.3,246.4 396.2,247.5 397.0,248.3 397.0,249.3 397.5,250.3 397.4,251.3 397.5,252.3 397.1,253.4 397.6,254.3 398.1,253.3 397.5,252.3 397.8,251.3 397.9,250.3 398.0,249.3 398.5,248.4 398.6,247.4 397.7,246.3 398.2,245.3 398.4,244.3 398.5,243.3 398.5,242.3 398.9,241.4 398.2,240.3 398.6,239.3 399.1,238.4 398.5,237.3 398.6,236.3 399.1,235.4 398.7,234.3 399.2,233.4 398.8,232.3 399.0,231.4 399.2,230.4 399.7,229.4 399.6,228.4 399.7,227.4 399.8,226.4 399.7,225.4 399.9,224.4 400.8,223.7 400.7,222.6 401.1,221.7 400.9,220.6 401.3,219.7 401.9,218.9 402.0,219.9 401.7,221.0 402.1,221.9 402.9,222.9 402.3,224.0 403.0,224.9 402.8,226.0 403.3,226.9 403.6,227.9 403.0,229.0 403.5,230.0 403.5,231.0 403.5,232.0 403.8,233.0 404.0,234.0 404.1,233.0 404.2,232.0 404.6,231.1 404.6,230.0 404.8,229.0 405.5,228.2 405.2,227.1 405.8,226.2 406.0,225.2 406.0,224.2 406.2,223.2 406.7,222.3 406.4,221.2 406.2,220.1 407.2,219.3 407.3,218.3 407.5,217.3 407.8,216.3 407.5,215.2 407.7,214.3 408.0,213.3 408.4,212.3 408.0,211.3 408.4,210.3 408.9,209.4 409.3,208.6 408.9,207.5 408.9,206.5 409.3,205.6 410.0,204.8 410.1,203.8 410.4,204.8 409.7,205.8 410.6,206.8 409.9,207.8 410.4,208.8 409.9,209.8 410.5,210.8 410.8,211.8 410.3,212.8 410.7,213.8 410.1,214.8 410.2,215.8 410.8,216.8 410.6,217.8 410.6,218.8 410.4,219.8 411.0,220.8 410.7,221.8 410.8,222.8 410.7,223.9 410.8,224.9 411.0,225.9 411.1,226.9 411.1,227.9 410.5,228.9 411.0,229.9 411.5,230.9 411.2,231.9 410.9,232.9 411.0,233.9 411.7,234.9 411.4,235.9 411.4,236.9 411.0,237.9 411.6,238.9 411.0,239.9 411.1,240.9 412.0,241.9 411.5,242.9 411.5,243.9 411.6,244.9 411.5,245.9 411.4,246.9 412.1,247.8 411.6,248.8 412.5,249.8 411.7,250.8 412.4,251.7 412.7,252.7 412.0,253.7 411.9,254.7 412.3,255.7 412.3,256.7 412.7,257.6 412.7,258.6 412.5,257.6 413.0,256.7 413.3,255.7 412.8,254.7 413.0,253.8 413.0,252.8 413.1,251.8 413.8,250.9 413.0,249.9 413.1,248.9 413.4,247.9 413.8,247.0 414.2,246.0 414.1,245.0 414.5,244.1 414.5,243.1 414.9,242.1 414.7,241.1 414.3,240.0 414.5,239.0 414.9,238.1 414.8,237.0 415.1,236.1 415.2,235.1 416.0,234.2 416.1,233.2 416.0,232.1 415.9,231.1 416.0,230.1 415.8,229.1 416.3,228.2 416.1,227.1 416.6,226.2 417.0,225.2 416.8,224.2 417.0,223.2 417.4,222.2 417.6,221.3 417.9,220.3 417.5,219.3 417.5,218.3 418.3,217.4 418.0,216.3 418.0,215.3 418.5,214.4 418.9,213.4 419.1,212.5 418.7,211.4 418.7,210.4 418.9,209.4 419.1,208.4 419.1,207.4 420.0,206.6 419.8,205.5 419.4,204.5 419.6,203.5 419.8,202.5 420.3,201.6 420.2,202.7 421.1,203.4 420.9,204.5 421.8,205.2 422.1,206.1 421.7,207.3 422.4,208.1 422.8,207.1 423.9,206.7 424.6,206.0 424.7,205.0 424.6,204.0 425.1,203.0 425.3,202.0 424.8,201.0 424.9,200.0 425.2,199.0 425.3,198.0 425.5,197.0 425.7,196.0 425.6,195.0 425.6,194.0 425.7,193.0 425.8,192.0 425.9,191.0 426.0,190.0 426.1,189.0 426.3,188.0 426.4,187.0 426.6,186.0 426.8,185.0 426.9,184.0 427.1,183.0 427.2,182.0 427.4,181.0 427.5,180.0 429.7,67.8 432.6,180.0 434.7,250.0 435.0,251.0 434.5,252.0 435.0,253.0 435.6,253.9 435.3,254.9 435.3,255.9 435.7,256.9 435.1,257.9 435.5,258.9 435.7,259.9 436.0,260.8 436.2,261.8 436.0,262.8 436.1,263.8 436.2,264.8 436.3,265.8 436.4,266.8 436.4,267.7 436.5,268.7 436.6,269.7 436.7,270.7 436.8,271.7 436.9,272.7 437.0,273.6 437.1,274.6 437.2,275.6 437.3,276.6 437.4,277.6 437.5,278.6 437.6,279.6 437.7,280.5 437.8,281.5 437.9,282.5 438.0,283.5 438.2,282.5 438.4,281.5 438.6,280.5 438.9,279.5 439.1,278.5 439.3,277.5 439.5,276.5 439.7,275.5 439.9,274.5 440.2,273.5 440.4,272.5 440.6,271.5 440.8,270.6 441.0,269.6 441.2,268.6 441.5,267.6 441.7,266.6 441.9,265.6 442.1,264.6 442.3,263.6 442.5,262.6 442.5,261.5 443.1,260.6 443.4,259.6 443.4,258.6 443.7,257.7 443.2,256.6 444.0,255.7 444.1,254.8 444.2,253.8 444.1,252.8 444.6,251.9 444.8,250.9 444.5,249.9 444.5,248.9 444.7,248.0 445.1,247.1 445.1,246.1 445.0,245.1 445.4,244.1 445.1,243.0 445.6,242.1 445.3,241.0 445.8,240.0 445.4,239.0 446.1,238.0 446.4,237.0 446.8,236.0 446.5,235.0 447.0,234.0 446.5,232.9 446.5,231.9 447.2,230.9 447.1,229.9 447.4,228.9 447.4,227.9 447.7,226.9 448.0,225.9 448.2,224.9 447.8,223.9 448.2,222.9 448.4,221.9 448.5,220.9 448.6,219.9 448.6,218.8 449.0,217.9 448.4,216.8 449.2,215.9 448.7,214.8 448.9,213.8 449.5,212.8 449.4,211.8 449.4,210.8 449.2,209.8 449.3,208.8 449.9,207.8 450.5,206.8 451.5,206.2 452.1,207.1 451.7,208.3 452.4,209.2 452.4,210.2 452.6,211.2 452.5,212.3 452.6,213.3 453.1,214.3 453.4,213.3 453.2,212.2 453.3,211.2 454.0,210.3 454.0,209.2 454.5,208.3 454.2,207.2 454.7,206.2 454.6,207.2 455.0,208.2 455.2,209.2 455.4,210.2 454.9,211.3 455.3,212.3 455.4,213.3 455.2,214.3 456.1,215.3 455.7,216.3 456.0,217.3 456.2,218.3 455.7,219.4 456.4,220.3 456.3,221.4 456.3,222.4 456.5,223.4 456.9,224.4 456.8,225.4 457.2,226.4 456.8,227.5 456.8,228.5 456.5,229.5 456.7,230.5 457.4,231.5 456.9,232.6 457.9,233.5 457.9,234.5 457.7,235.6 457.6,236.6 457.8,237.6 458.0,238.6 458.7,239.4 458.5,240.4 458.7,241.4 459.0,242.3 458.9,243.3 459.1,244.2 459.6,245.1 459.4,244.1 459.9,243.2 460.3,242.2 460.5,241.3 460.6,240.3 461.0,239.4 461.0,238.3 460.8,237.3 461.4,236.4 461.2,235.4 461.4,234.4 461.5,233.4 461.7,232.4 461.9,231.4 462.0,230.4 461.9,229.4 462.3,228.4 462.1,227.4 462.5,226.4 462.8,225.5 462.6,224.4 462.3,223.4 462.8,222.4 463.3,221.4 462.7,220.4 462.7,219.4 462.6,218.4 463.1,217.5 463.1,216.5 463.6,215.5 463.1,214.5 463.3,213.5 463.8,212.6 463.1,211.5 463.6,210.6 463.4,209.5 464.1,208.6 463.7,207.6 463.6,206.6 463.7,205.6 463.8,204.6 464.4,203.7 463.9,202.6 463.9,201.6 464.2,200.7 464.5,199.7 465.3,200.3 465.1,201.5 465.5,202.3 466.1,203.0 466.2,202.0 466.1,201.0 465.9,200.0 466.6,199.0 466.3,198.0 466.6,197.0 467.2,196.0 466.8,195.0 466.8,194.0 466.9,193.0 467.0,192.0 467.1,191.0 467.2,190.0 467.3,189.0 467.3,188.0 467.4,187.0 467.5,186.0 467.6,185.0 467.7,184.0 467.8,183.0 467.8,182.0 467.9,181.0 468.0,180.0 471.6,70.5 474.7,180.0 475.8,250.0 478.0,313.8 478.1,312.8 478.1,311.8 478.1,310.8 478.2,309.8 478.2,308.8 478.3,307.8 478.4,306.8 478.4,305.8 478.4,304.8 478.5,303.8 478.6,302.7 478.6,301.7 478.7,300.7 478.7,299.7 478.8,298.7 478.8,297.7 478.9,296.7 478.9,295.7 478.9,294.7 479.0,293.7 479.1,292.7 479.1,291.7 479.2,290.7 479.2,289.7 479.2,288.7 479.3,287.7 479.4,286.7 479.4,285.7 479.4,284.7 479.5,283.7 479.6,282.7 479.6,281.6 479.7,280.6 479.7,279.6 479.8,278.6 479.8,277.6 479.9,276.6 479.9,275.6 480.0,274.6 480.0,273.6 480.1,272.6 480.1,271.6 480.2,270.6 480.3,269.6 480.4,268.6 480.5,267.6 480.5,266.6 480.6,265.6 480.7,264.6 480.8,263.6 480.9,262.6 480.7,261.6 481.3,260.7 481.1,259.6 481.3,258.7 481.2,257.6 481.6,256.7 481.5,255.7 481.1,254.6 482.0,253.7 481.5,252.7 481.7,251.7 481.9,250.7 482.1,249.7 482.4,248.7 481.8,247.7 482.3,246.7 482.8,245.8 483.6,245.2 484.1,244.3 484.7,243.5 485.1,244.5 484.6,245.5 484.5,246.5 484.9,247.4 485.1,248.4 485.6,249.3 485.4,250.3 485.2,251.3 485.7,252.3 485.7,253.2 485.8,254.2 486.0,255.2 485.8,256.2 486.2,257.1 485.7,258.2 485.9,259.1 486.5,260.1 486.8,261.0 486.5,262.0 486.6,263.0 486.7,262.0 486.4,261.0 487.3,260.1 487.0,259.1 486.8,258.0 486.8,257.0 487.7,256.1 487.2,255.1 488.1,254.2 487.6,253.1 488.0,252.2 487.8,251.2 488.3,250.2 487.9,249.2 488.1,248.2 488.1,247.2 488.1,246.2 488.7,245.3 489.3,244.3 488.4,243.2 489.4,242.4 488.9,241.3 488.9,240.3 488.9,239.3 489.3,238.4 489.2,237.3 489.7,236.4 489.8,235.4 489.6,234.4 490.4,233.5 490.3,232.5 490.5,231.5 490.4,230.5 490.9,231.3 490.7,232.4 491.0,233.3 491.2,234.2 492.0,235.0 492.0,236.0 492.6,235.1 492.2,234.1 491.9,233.0 492.9,232.2 492.4,231.1 493.1,230.2 492.5,229.2 492.5,228.2 493.0,227.3 493.2,226.3 493.4,225.3 493.5,224.4 493.3,223.4 493.6,222.4 494.0,221.4 493.9,220.4 493.7,219.3 494.3,218.4 494.2,217.3 494.5,216.3 494.3,215.3 494.6,214.3 494.7,213.3 495.3,212.3 494.8,211.2 495.3,210.2 495.5,209.2 496.1,208.3 495.5,207.2 496.0,206.2 496.8,207.0 497.7,207.8 497.5,208.8 498.1,209.8 497.6,210.8 498.5,211.7 498.4,212.8 498.7,213.7 498.8,214.7 499.2,215.7 498.6,216.8 498.9,217.8 498.8,218.8 499.3,219.7 499.7,220.7 499.4,221.7 499.3,222.8 499.8,223.7 500.2,224.7 500.1,225.7 500.2,226.7 500.0,227.8 500.2,228.8 500.6,229.8 500.6,230.9 501.4,231.8 501.5,232.8 501.7,233.8 501.5,234.9 501.6,236.0 501.7,237.0 501.9,236.0 503.1,235.7 503.4,234.8 503.9,234.0 504.4,233.2 504.9,232.4 505.0,231.5 505.3,230.6 505.4,229.7 506.2,228.9 506.7,228.0 507.5,227.3 508.2,226.4 508.6,225.4 508.4,224.4 509.0,223.4 508.4,222.4 508.8,221.4 509.2,220.4 508.6,219.3 509.3,218.4 508.9,217.3 509.2,216.3 508.7,215.3 508.6,214.3 508.8,213.3 509.2,212.3 509.6,211.3 509.3,210.3 509.3,209.3 509.2,208.2 509.3,207.2 509.6,206.2 509.8,205.2 509.3,204.2 509.7,203.2 509.4,202.2 509.3,201.2 509.2,200.2 509.5,199.2 509.8,198.2 509.7,197.2 509.7,196.1 509.8,195.1 509.8,194.1 509.9,193.1 509.9,192.1 510.0,191.1 510.0,190.1 510.0,189.1 510.1,188.1 510.1,187.1 510.2,186.1 510.2,185.0 510.2,184.0 510.3,183.0 510.3,182.0 510.4,181.0 510.4,180.0 513.5,55.7 516.2,180.0 517.3,250.0 517.1,251.0 517.5,252.0 517.3,253.0 517.5,254.0 517.2,255.0 517.9,256.0 517.9,257.0 517.6,258.0 518.1,259.0 517.7,260.0 518.3,261.0 518.2,262.0 518.2,263.0 518.3,264.0 518.4,265.0 518.4,266.0 518.5,267.0 518.6,268.0 518.6,269.0 518.7,270.0 518.8,271.0 518.9,272.0 518.9,273.0 519.0,274.0 519.1,275.0 519.1,276.0 519.2,277.0 519.3,278.1 519.4,279.1 519.4,280.1 519.5,281.1 519.6,282.1 519.6,283.1 519.7,284.1 519.8,285.1 519.9,286.1 519.9,287.1 520.0,288.1 520.1,289.1 520.1,290.1 520.2,291.1 520.3,292.1 520.3,293.1 520.4,294.1 520.5,295.1 520.6,296.1 520.6,297.1 520.7,298.1 520.8,299.1 520.8,300.1 520.9,301.1 521.0,302.1 521.1,303.1 521.1,304.1 521.2,305.1 521.3,304.1 521.4,303.1 521.5,302.1 521.5,301.1 521.6,300.1 521.7,299.1 521.8,298.1 521.9,297.1 522.0,296.1 522.1,295.1 522.2,294.1 522.2,293.1 522.3,292.1 522.4,291.1 522.5,290.1 522.6,289.1 522.7,288.1 522.8,287.1 522.9,286.1 522.9,285.1 523.0,284.1 523.1,283.1 523.2,282.1 523.3,281.1 523.4,280.1 523.5,279.1 523.6,278.1 523.6,277.0 523.7,276.0 523.8,275.0 523.9,274.0 524.0,273.0 524.1,272.0 524.2,271.0 524.3,270.0 524.3,269.0 524.4,268.0 524.5,267.0 524.6,266.0 524.7,265.0 524.8,264.0 524.9,263.0 525.0,262.0 524.7,261.0 525.2,260.0 525.3,259.0 525.1,258.0 525.2,257.0 526.0,256.1 525.6,255.0 525.9,254.0 525.7,253.0 525.9,252.0 525.7,251.0 526.0,250.0 525.7,249.0 526.4,248.0 526.3,247.0 526.0,246.0 526.2,245.0 526.4,244.0 526.0,242.9 526.6,242.0 527.0,241.0 526.7,240.0 526.6,238.9 526.3,237.9 526.8,236.9 526.9,235.9 527.0,234.9 527.3,233.9 526.7,232.9 527.0,231.9 526.8,230.8 527.9,230.0 527.6,228.9 528.2,228.0 528.1,227.0 528.6,226.0 528.5,225.0 528.8,224.0 528.9,223.0 529.4,222.1 529.2,221.0 529.1,222.0 529.1,223.0 529.8,223.9 530.2,224.8 530.4,225.8 530.3,226.8 530.4,227.8 530.4,228.8 530.8,229.7 530.5,230.8 531.2,231.6 531.8,232.5 531.5,233.6 531.5,234.6 532.1,235.5 531.8,236.5 532.5,237.4 532.4,238.4 532.1,239.4 532.6,240.4 532.1,241.5 532.5,242.4 532.5,243.5 533.0,244.4 532.4,245.5 532.4,246.5 533.2,247.5 532.9,248.5 533.3,249.5 532.7,250.5 532.8,251.5 532.8,252.6 533.0,253.6 533.4,254.6 533.2,255.6 533.8,256.6 533.8,257.6 533.5,258.6 533.7,257.6 534.1,256.6 533.8,255.5 533.7,254.5 533.9,253.5 534.3,252.5 534.5,251.5 535.2,250.6 535.2,249.5 535.5,248.6 535.6,247.5 535.7,246.5 535.9,245.5 535.5,244.4 536.2,243.5 536.2,242.5 536.4,241.5 536.5,240.4 536.6,239.4 536.8,238.4 537.4,237.5 537.6,236.5 537.2,235.4 538.1,234.6 538.0,233.5 537.8,232.4 538.7,231.6 539.1,230.6 538.9,229.5 539.1,228.6 539.4,227.6 539.6,226.6 539.9,225.6 540.6,224.8 540.9,223.8 541.5,222.9 541.9,222.0 542.2,221.0 542.3,220.0 543.3,219.4 543.4,218.5 543.8,217.6 544.3,216.8 544.8,217.7 544.5,218.8 544.6,219.8 544.7,220.8 544.8,221.8 545.5,222.7 545.4,223.8 545.5,224.8 545.9,225.7 546.5,226.6 545.9,227.8 545.9,228.8 546.5,229.7 546.6,230.7 546.3,231.8 547.3,232.7 546.8,233.8 547.1,234.7 547.0,235.8 547.4,236.8 547.1,237.8 547.7,238.8 547.7,239.8 547.7,240.8 547.8,241.8 547.9,242.8 547.5,243.9 548.0,244.9 548.1,245.9 548.6,246.9 548.3,247.9 548.2,248.9 548.4,249.9 548.2,251.0 548.7,252.0 549.0,252.9 548.6,254.0 548.6,255.0 548.7,256.0 549.3,257.0 549.1,256.0 549.8,255.1 549.5,254.1 549.8,253.1 550.4,252.3 550.7,251.3 550.6,250.3 550.5,249.3 550.8,248.4 550.8,247.4 551.0,246.5 551.1,245.5 552.0,244.7 552.2,243.7 551.9,242.7 551.7,241.7 552.5,240.8 552.5,239.8 552.6,238.8 552.2,237.7 552.6,236.8 553.0,235.8 553.0,234.8 553.4,233.9 552.6,232.8 553.0,231.8 553.2,230.8 553.4,229.9 554.0,228.9 554.1,228.0 554.1,227.0 554.1,226.0 554.3,225.0 554.5,224.0 554.0,222.9 554.5,222.0 554.5,221.0 555.1,220.1 554.4,219.0 554.9,218.0 554.9,217.0 555.6,216.0 555.3,215.0 555.1,213.9 555.5,213.0 555.9,212.0 555.9,211.0 555.6,209.9 556.5,209.0 556.1,208.0 556.0,206.9 556.6,206.0 557.3,205.3 557.9,204.6 558.4,203.8 558.6,202.8 558.1,201.8 558.1,200.8 558.9,199.8 558.7,198.8 558.3,197.8 558.9,196.9 558.9,195.9 559.0,194.9 559.1,193.9 559.1,192.9 559.2,191.9 559.3,190.9 559.3,189.9 559.4,188.9 559.5,187.9 559.5,186.9 559.6,185.9 559.7,185.0 559.7,184.0 559.8,183.0 559.9,182.0 559.9,181.0 560.0,180.0 562.7,74.6 565.3,180.0 567.0,250.0 567.5,251.0 567.1,252.0 566.9,253.0 567.4,254.0 567.3,255.0 567.0,256.0 567.5,257.0 567.2,258.0 567.8,259.0 567.2,260.1 567.7,261.0 567.5,262.1 567.5,263.1 567.5,264.1 567.6,265.1 567.6,266.1 567.7,267.1 567.7,268.1 567.7,269.1 567.8,270.1 567.8,271.1 567.8,272.1 567.9,273.1 567.9,274.1 568.0,275.1 568.0,276.1 568.0,277.1 568.1,278.1 568.1,279.2 568.2,280.2 568.2,281.2 568.2,282.2 568.3,283.2 568.3,284.2 568.4,285.2 568.4,286.2 568.4,287.2 568.5,288.2 568.5,289.2 568.5,290.2 568.6,291.2 568.6,292.2 568.7,293.2 568.7,294.2 568.7,295.2 568.8,296.2 568.8,297.2 568.9,298.3 568.9,299.3 568.9,300.3 569.0,301.3 569.0,302.3 569.0,303.3 569.1,304.3 569.1,305.3 569.2,306.3 569.2,307.3 571.9,247.0 572.2,248.0 571.8,249.0 572.2,250.0 573.0,250.8 572.6,251.9 573.1,252.8 573.2,253.8 573.6,254.7 573.9,255.7 573.3,256.8 574.0,257.7 574.3,258.7 574.7,259.7 574.2,260.8 575.1,261.7 574.9,262.8 575.1,263.9 575.3,264.9 575.5,265.9 575.6,266.9 575.8,268.0 576.0,269.0 576.1,268.0 576.2,267.0 576.2,266.0 576.3,265.1 576.4,264.1 576.5,263.1 576.6,262.1 576.6,261.1 576.4,260.1 576.4,259.1 577.4,258.2 577.0,257.2 577.2,256.2 576.8,255.2 577.1,254.2 576.9,253.2 577.7,252.3 577.0,251.2 578.0,250.3 578.1,249.3 577.4,248.3 577.6,247.3 577.6,246.3 577.5,245.3 578.0,244.3 578.2,243.4 578.6,242.4 578.3,241.4 578.4,240.4 578.9,241.3 578.9,242.3 579.4,243.2 579.8,244.1 579.7,245.2 579.5,246.2 580.4,247.0 579.8,248.2 580.5,249.0 581.1,248.2 581.6,247.3 581.5,246.3 581.6,245.3 582.3,244.5 582.1,243.4 582.7,242.6 582.8,241.6 583.2,240.6 583.0,239.6 583.3,238.6 582.7,237.5 583.5,236.6 582.9,235.5 583.1,234.5 583.5,233.5 583.8,232.5 583.1,231.5 583.4,230.5 583.9,229.5 583.5,228.4 583.7,227.4 583.6,226.4 584.4,225.5 584.3,224.4 584.0,223.4 584.7,222.4 584.6,221.4 584.1,220.4 584.0,219.3 584.7,218.4 584.7,217.4 584.4,216.3 584.2,215.3 584.5,214.3 585.3,213.3 584.9,212.3 585.2,211.3 585.4,210.3 585.5,209.3 585.3,208.2 586.0,207.3 585.8,206.3 586.4,205.3 586.2,204.3 586.4,203.3 586.8,202.3 587.0,201.3 586.9,200.2 587.3,199.3 587.0,198.2 587.3,199.2 587.6,200.1 587.9,201.1 588.0,202.1 587.7,203.2 588.5,204.0 588.8,205.0 589.2,206.0 588.8,207.1 589.2,208.0 588.9,209.0 589.5,209.9 589.9,210.9 589.4,211.9 589.4,212.9 590.0,213.8 590.0,214.8 590.2,215.7 590.2,216.7 590.1,217.7 590.0,218.7 590.7,219.6 590.2,220.7 590.6,221.6 590.9,222.5 590.6,223.6 591.3,224.5 591.1,225.5 590.9,226.5 591.4,227.4 591.8,228.5 592.4,229.4 593.3,230.1 593.8,231.0 594.6,231.8 594.5,232.8 595.2,233.7 594.7,234.8 595.1,235.8 595.6,236.7 595.7,237.7 595.6,238.8 596.7,239.6 596.6,240.6 596.2,241.7 596.8,242.6 596.5,241.5 597.3,240.7 597.1,239.6 597.2,238.6 597.2,237.6 597.5,236.7 597.8,235.7 598.2,234.8 598.5,233.8 598.5,232.8 598.2,231.8 598.7,230.8 599.3,229.9 598.8,228.8 599.4,227.9 599.1,226.9 599.3,225.9 599.7,225.0 600.2,224.0 600.0,223.0 600.2,222.0 600.1,220.9 600.6,220.0 600.3,218.9 601.2,218.0 601.2,217.0 601.1,216.0 601.6,215.0 601.5,214.0 601.9,213.0 602.1,212.0 602.5,211.1 602.1,209.9 603.1,209.1 602.8,208.0 602.7,209.1 603.6,209.9 603.1,211.0 604.0,211.9 603.6,213.0 604.5,213.8 604.1,215.0 604.3,215.9 604.9,216.9 605.0,217.9 605.4,218.8 605.3,219.8 605.6,220.8 606.1,221.8 605.8,222.8 605.8,223.9 606.4,224.8 606.2,225.9 606.9,226.8 607.0,227.8 606.9,228.8 607.4,229.8 607.1,230.8 607.6,231.8 607.5,232.9 608.3,233.8 608.3,234.8 608.0,235.9 608.5,236.9 609.2,237.8 608.6,238.9 609.4,239.8 609.3,240.9 609.1,242.0 609.4,243.0 609.6,244.0 610.5,244.9 610.5,245.9 610.8,246.9 610.1,248.1 610.8,249.0 610.6,248.0 610.7,247.0 611.3,246.1 611.5,245.1 611.5,244.1 611.4,243.1 611.9,242.2 611.7,241.2 611.2,240.1 612.1,239.2 611.4,238.2 612.5,237.3 612.2,236.2 612.3,235.3 612.0,234.2 612.8,233.3 612.4,232.3 612.7,231.3 612.3,230.3 613.0,229.4 613.2,228.4 613.0,227.4" stroke="#dc4426" stroke-width="1.5" stroke-dasharray="3.4 2.3" stroke-linecap="butt"/>
</g>
<g stroke="#707070" stroke-width="1" fill="none">
<rect x="54.5" y="6.5" width="559.0" height="324.0"/>
<line x1="54.5" y1="325.2" x2="60.5" y2="325.2"/><line x1="613.5" y1="325.2" x2="607.5" y2="325.2"/><line x1="54.5" y1="275.8" x2="60.5" y2="275.8"/><line x1="613.5" y1="275.8" x2="607.5" y2="275.8"/><line x1="54.5" y1="226.4" x2="60.5" y2="226.4"/><line x1="613.5" y1="226.4" x2="607.5" y2="226.4"/><line x1="54.5" y1="177.7" x2="60.5" y2="177.7"/><line x1="613.5" y1="177.7" x2="607.5" y2="177.7"/><line x1="54.5" y1="128.4" x2="60.5" y2="128.4"/><line x1="613.5" y1="128.4" x2="607.5" y2="128.4"/><line x1="54.5" y1="79.2" x2="60.5" y2="79.2"/><line x1="613.5" y1="79.2" x2="607.5" y2="79.2"/><line x1="54.5" y1="31.1" x2="60.5" y2="31.1"/><line x1="613.5" y1="31.1" x2="607.5" y2="31.1"/><line x1="54.5" y1="330.5" x2="54.5" y2="324.5"/><line x1="54.5" y1="6.5" x2="54.5" y2="12.5"/><line x1="143.5" y1="330.5" x2="143.5" y2="324.5"/><line x1="143.5" y1="6.5" x2="143.5" y2="12.5"/><line x1="231.5" y1="330.5" x2="231.5" y2="324.5"/><line x1="231.5" y1="6.5" x2="231.5" y2="12.5"/><line x1="320.5" y1="330.5" x2="320.5" y2="324.5"/><line x1="320.5" y1="6.5" x2="320.5" y2="12.5"/><line x1="408.5" y1="330.5" x2="408.5" y2="324.5"/><line x1="408.5" y1="6.5" x2="408.5" y2="12.5"/><line x1="497.5" y1="330.5" x2="497.5" y2="324.5"/><line x1="497.5" y1="6.5" x2="497.5" y2="12.5"/><line x1="585.5" y1="330.5" x2="585.5" y2="324.5"/><line x1="585.5" y1="6.5" x2="585.5" y2="12.5"/>
</g>
<rect x="533.5" y="13.5" width="62" height="27" fill="#fff" stroke="#707070" stroke-width="1"/>
<line x1="536.5" y1="20.5" x2="554" y2="20.5" stroke="#0000ff" stroke-width="1.5"/>
<line x1="537.5" y1="33" x2="554" y2="33" stroke="#dc4426" stroke-width="1.5" stroke-dasharray="4.3 1.7"/>
</svg>
<div class="yl" style="top:318.2px">-200</div><div class="yl" style="top:268.8px">-100</div><div class="yl" style="top:219.4px">0</div><div class="yl" style="top:170.7px">100</div><div class="yl" style="top:121.4px">200</div><div class="yl" style="top:72.2px">300</div><div class="yl" style="top:24.1px">400</div><div class="xl" style="left:34.5px">0</div><div class="xl" style="left:123.0px">50</div><div class="xl" style="left:211.5px">100</div><div class="xl" style="left:300.0px">150</div><div class="xl" style="left:388.5px">200</div><div class="xl" style="left:477.0px">250</div><div class="xl" style="left:565.5px">300</div>
<div class="lg" style="left:556px;top:15.5px">Wired</div>
<div class="lg" style="left:556px;top:28px">Wireless</div>
<div class="xlab">Time (s)</div>
<div class="ylab">Magnitude (uV)</div>
</body></html>
